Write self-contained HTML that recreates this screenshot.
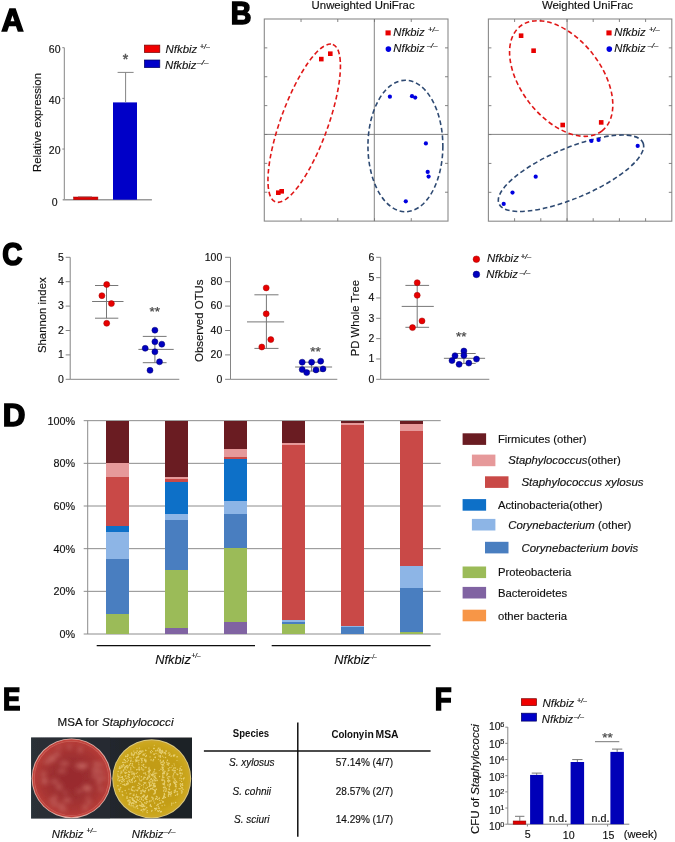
<!DOCTYPE html>
<html><head><meta charset="utf-8"><style>
html,body{margin:0;padding:0;background:#fff;}
svg{display:block;font-family:"Liberation Sans",sans-serif;}
</style></head><body>
<svg width="675" height="842" viewBox="0 0 675 842" font-family="Liberation Sans, sans-serif">
<defs><filter id="soft" filterUnits="userSpaceOnUse" x="0" y="0" width="675" height="842"><feGaussianBlur stdDeviation="0.35"/></filter></defs>
<rect width="675" height="842" fill="#fff"/>
<g filter="url(#soft)">
<text x="0" y="0" font-size="31.59" font-weight="bold" fill="#000" stroke="#000" stroke-width="1.6" stroke-linejoin="miter" transform="translate(1.61,30.93) scale(0.966,1)">A</text>
<text x="0" y="0" font-size="31.15" font-weight="bold" fill="#000" stroke="#000" stroke-width="1.6" stroke-linejoin="miter" transform="translate(230.82,24.03) scale(0.919,1)">B</text>
<text x="0" y="0" font-size="31.68" font-weight="bold" fill="#000" stroke="#000" stroke-width="1.6" stroke-linejoin="miter" transform="translate(2.26,265.31) scale(0.884,1)">C</text>
<text x="0" y="0" font-size="31.44" font-weight="bold" fill="#000" stroke="#000" stroke-width="1.6" stroke-linejoin="miter" transform="translate(2.70,425.93) scale(0.998,1)">D</text>
<text x="0" y="0" font-size="31.59" font-weight="bold" fill="#000" stroke="#000" stroke-width="1.6" stroke-linejoin="miter" transform="translate(2.91,710.13) scale(0.824,1)">E</text>
<text x="0" y="0" font-size="31.73" font-weight="bold" fill="#000" stroke="#000" stroke-width="1.6" stroke-linejoin="miter" transform="translate(434.84,710.23) scale(0.872,1)">F</text>
<line x1="64.3" y1="47.7" x2="64.3" y2="199.7" stroke="#858585" stroke-width="1" />
<line x1="62.7" y1="199.7" x2="151.9" y2="199.7" stroke="#9a9a9a" stroke-width="1.4" />
<line x1="62.3" y1="149.03333333333333" x2="64.3" y2="149.03333333333333" stroke="#858585" stroke-width="1" />
<text x="60.5" y="154.33333333333334" font-size="10.5" text-anchor="end" fill="#111" stroke="#111" stroke-width="0.15" >20</text>
<line x1="62.3" y1="98.36666666666666" x2="64.3" y2="98.36666666666666" stroke="#858585" stroke-width="1" />
<text x="60.5" y="103.66666666666666" font-size="10.5" text-anchor="end" fill="#111" stroke="#111" stroke-width="0.15" >40</text>
<line x1="62.3" y1="47.69999999999999" x2="64.3" y2="47.69999999999999" stroke="#858585" stroke-width="1" />
<text x="60.5" y="52.999999999999986" font-size="10.5" text-anchor="end" fill="#111" stroke="#111" stroke-width="0.15" >60</text>
<text x="57.5" y="205.6" font-size="10.5" text-anchor="end" fill="#111" stroke="#111" stroke-width="0.15" >0</text>
<rect x="73.6" y="197" width="24.3" height="2.7" fill="#e00000" stroke="#900" stroke-width="0.5" />
<line x1="78" y1="196.8" x2="92" y2="196.8" stroke="#a05050" stroke-width="0.8" />
<rect x="113" y="102.4" width="24" height="97.29999999999998" fill="#0000c8" stroke="none" stroke-width="0" />
<line x1="125.6" y1="102.4" x2="125.6" y2="72.4" stroke="#858585" stroke-width="1" />
<line x1="117.6" y1="72.4" x2="133.6" y2="72.4" stroke="#858585" stroke-width="1" />
<text x="125.6" y="63.8" font-size="14" text-anchor="middle" fill="#555" stroke="#555" stroke-width="0.5">*</text>
<rect x="144.4" y="45.1" width="15.4" height="7.4" fill="#f00000" stroke="#700" stroke-width="0.7" />
<rect x="144.4" y="60" width="15.4" height="7.6" fill="#0000c8" stroke="#000060" stroke-width="0.7" />
<text x="165.55" y="52.6" font-size="11.42" font-style="italic" fill="#111" stroke="#111" stroke-width="0.12">Nfkbiz</text>
<text x="200.10" y="48.93" font-size="6.8" font-style="italic" fill="#111" stroke="#111" stroke-width="0.2" textLength="9.6" lengthAdjust="spacingAndGlyphs">+/–</text>
<text x="164.95" y="68.5" font-size="11.35" font-style="italic" fill="#111" stroke="#111" stroke-width="0.12">Nfkbiz</text>
<text x="197.30" y="65.23" font-size="6.8" font-style="italic" fill="#111" stroke="#111" stroke-width="0.2" textLength="11" lengthAdjust="spacingAndGlyphs">–/–</text>
<text x="0" y="0" font-size="11" text-anchor="middle" fill="#111" textLength="99" lengthAdjust="spacingAndGlyphs" stroke="#111" stroke-width="0.15" transform="translate(40.5,122.5) rotate(-90)">Relative expression</text>
<rect x="264.3" y="19" width="183.7" height="202.1" fill="none" stroke="#8a8a8a" stroke-width="1.1"/>
<line x1="374.3" y1="19" x2="374.3" y2="221.1" stroke="#777" stroke-width="0.9" />
<line x1="264.3" y1="134.4" x2="448" y2="134.4" stroke="#777" stroke-width="0.9" />
<line x1="301.04" y1="19" x2="301.04" y2="22" stroke="#777" stroke-width="0.9" />
<line x1="301.04" y1="221.1" x2="301.04" y2="218.1" stroke="#777" stroke-width="0.9" />
<line x1="337.78" y1="19" x2="337.78" y2="22" stroke="#777" stroke-width="0.9" />
<line x1="337.78" y1="221.1" x2="337.78" y2="218.1" stroke="#777" stroke-width="0.9" />
<line x1="374.52" y1="19" x2="374.52" y2="22" stroke="#777" stroke-width="0.9" />
<line x1="374.52" y1="221.1" x2="374.52" y2="218.1" stroke="#777" stroke-width="0.9" />
<line x1="411.26" y1="19" x2="411.26" y2="22" stroke="#777" stroke-width="0.9" />
<line x1="411.26" y1="221.1" x2="411.26" y2="218.1" stroke="#777" stroke-width="0.9" />
<line x1="264.3" y1="47.87142857142857" x2="267.3" y2="47.87142857142857" stroke="#777" stroke-width="0.9" />
<line x1="448" y1="47.87142857142857" x2="445" y2="47.87142857142857" stroke="#777" stroke-width="0.9" />
<line x1="264.3" y1="76.74285714285713" x2="267.3" y2="76.74285714285713" stroke="#777" stroke-width="0.9" />
<line x1="448" y1="76.74285714285713" x2="445" y2="76.74285714285713" stroke="#777" stroke-width="0.9" />
<line x1="264.3" y1="105.61428571428571" x2="267.3" y2="105.61428571428571" stroke="#777" stroke-width="0.9" />
<line x1="448" y1="105.61428571428571" x2="445" y2="105.61428571428571" stroke="#777" stroke-width="0.9" />
<line x1="264.3" y1="134.48571428571427" x2="267.3" y2="134.48571428571427" stroke="#777" stroke-width="0.9" />
<line x1="448" y1="134.48571428571427" x2="445" y2="134.48571428571427" stroke="#777" stroke-width="0.9" />
<line x1="264.3" y1="163.35714285714286" x2="267.3" y2="163.35714285714286" stroke="#777" stroke-width="0.9" />
<line x1="448" y1="163.35714285714286" x2="445" y2="163.35714285714286" stroke="#777" stroke-width="0.9" />
<line x1="264.3" y1="192.22857142857143" x2="267.3" y2="192.22857142857143" stroke="#777" stroke-width="0.9" />
<line x1="448" y1="192.22857142857143" x2="445" y2="192.22857142857143" stroke="#777" stroke-width="0.9" />
<text x="363.1" y="9.4" font-size="11" text-anchor="middle" fill="#111" textLength="103" lengthAdjust="spacingAndGlyphs" stroke="#111" stroke-width="0.15" >Unweighted UniFrac</text>
<ellipse cx="304.2" cy="123.2" rx="83.8" ry="23.6" transform="rotate(-70 304.2 123.2)" fill="none" stroke="#e01818" stroke-width="1.6" stroke-dasharray="4.7 2.9"/>
<ellipse cx="405.4" cy="146" rx="37.45" ry="65.75" transform="rotate(0 405.4 146)" fill="none" stroke="#2e4a72" stroke-width="1.6" stroke-dasharray="4.7 2.9"/>
<rect x="319.0" y="56.800000000000004" width="4.6" height="4.6" fill="#e80000" stroke="none" stroke-width="0" />
<rect x="328.0" y="51.400000000000006" width="4.6" height="4.6" fill="#e80000" stroke="none" stroke-width="0" />
<rect x="276.0" y="190.39999999999998" width="4.6" height="4.6" fill="#e80000" stroke="none" stroke-width="0" />
<rect x="279.4" y="189.0" width="4.6" height="4.6" fill="#e80000" stroke="none" stroke-width="0" />
<circle cx="389.9" cy="96.7" r="2.1" fill="#0000e0" />
<circle cx="412" cy="96.2" r="2.1" fill="#0000e0" />
<circle cx="415.2" cy="97.6" r="2.1" fill="#0000e0" />
<circle cx="425.9" cy="143.4" r="2.1" fill="#0000e0" />
<circle cx="427.7" cy="171.9" r="2.1" fill="#0000e0" />
<circle cx="428.6" cy="176.6" r="2.1" fill="#0000e0" />
<circle cx="405.8" cy="201.3" r="2.1" fill="#0000e0" />
<rect x="385.5" y="30.4" width="5.2" height="5" fill="#e80000" stroke="none" stroke-width="0" />
<text x="393.35" y="36.3" font-size="11.31" font-style="italic" fill="#111" stroke="#111" stroke-width="0.12">Nfkbiz</text>
<text x="428.10" y="32.13" font-size="6.8" font-style="italic" fill="#111" stroke="#111" stroke-width="0.2" textLength="10.5" lengthAdjust="spacingAndGlyphs">+/–</text>
<circle cx="388.40000000000003" cy="49.1" r="2.8" fill="#0000e0" />
<text x="393.35" y="52.3" font-size="11.31" font-style="italic" fill="#111" stroke="#111" stroke-width="0.12">Nfkbiz</text>
<text x="426.90" y="48.23" font-size="6.8" font-style="italic" fill="#111" stroke="#111" stroke-width="0.2" textLength="10.5" lengthAdjust="spacingAndGlyphs">–/–</text>
<rect x="488.4" y="19" width="183.39999999999998" height="202.2" fill="none" stroke="#8a8a8a" stroke-width="1.1"/>
<line x1="567.1" y1="19" x2="567.1" y2="221.2" stroke="#777" stroke-width="0.9" />
<line x1="488.4" y1="134.4" x2="671.8" y2="134.4" stroke="#777" stroke-width="0.9" />
<line x1="514.6" y1="19" x2="514.6" y2="22" stroke="#777" stroke-width="0.9" />
<line x1="514.6" y1="221.2" x2="514.6" y2="218.2" stroke="#777" stroke-width="0.9" />
<line x1="540.8" y1="19" x2="540.8" y2="22" stroke="#777" stroke-width="0.9" />
<line x1="540.8" y1="221.2" x2="540.8" y2="218.2" stroke="#777" stroke-width="0.9" />
<line x1="567.0" y1="19" x2="567.0" y2="22" stroke="#777" stroke-width="0.9" />
<line x1="567.0" y1="221.2" x2="567.0" y2="218.2" stroke="#777" stroke-width="0.9" />
<line x1="593.1999999999999" y1="19" x2="593.1999999999999" y2="22" stroke="#777" stroke-width="0.9" />
<line x1="593.1999999999999" y1="221.2" x2="593.1999999999999" y2="218.2" stroke="#777" stroke-width="0.9" />
<line x1="619.4" y1="19" x2="619.4" y2="22" stroke="#777" stroke-width="0.9" />
<line x1="619.4" y1="221.2" x2="619.4" y2="218.2" stroke="#777" stroke-width="0.9" />
<line x1="645.5999999999999" y1="19" x2="645.5999999999999" y2="22" stroke="#777" stroke-width="0.9" />
<line x1="645.5999999999999" y1="221.2" x2="645.5999999999999" y2="218.2" stroke="#777" stroke-width="0.9" />
<line x1="488.4" y1="47.885714285714286" x2="491.4" y2="47.885714285714286" stroke="#777" stroke-width="0.9" />
<line x1="671.8" y1="47.885714285714286" x2="668.8" y2="47.885714285714286" stroke="#777" stroke-width="0.9" />
<line x1="488.4" y1="76.77142857142857" x2="491.4" y2="76.77142857142857" stroke="#777" stroke-width="0.9" />
<line x1="671.8" y1="76.77142857142857" x2="668.8" y2="76.77142857142857" stroke="#777" stroke-width="0.9" />
<line x1="488.4" y1="105.65714285714284" x2="491.4" y2="105.65714285714284" stroke="#777" stroke-width="0.9" />
<line x1="671.8" y1="105.65714285714284" x2="668.8" y2="105.65714285714284" stroke="#777" stroke-width="0.9" />
<line x1="488.4" y1="134.54285714285714" x2="491.4" y2="134.54285714285714" stroke="#777" stroke-width="0.9" />
<line x1="671.8" y1="134.54285714285714" x2="668.8" y2="134.54285714285714" stroke="#777" stroke-width="0.9" />
<line x1="488.4" y1="163.42857142857142" x2="491.4" y2="163.42857142857142" stroke="#777" stroke-width="0.9" />
<line x1="671.8" y1="163.42857142857142" x2="668.8" y2="163.42857142857142" stroke="#777" stroke-width="0.9" />
<line x1="488.4" y1="192.3142857142857" x2="491.4" y2="192.3142857142857" stroke="#777" stroke-width="0.9" />
<line x1="671.8" y1="192.3142857142857" x2="668.8" y2="192.3142857142857" stroke="#777" stroke-width="0.9" />
<text x="587.5" y="9.4" font-size="11" text-anchor="middle" fill="#111" textLength="91.2" lengthAdjust="spacingAndGlyphs" stroke="#111" stroke-width="0.15" >Weighted UniFrac</text>
<ellipse cx="561.2" cy="78.5" rx="66.4" ry="40" transform="rotate(52 561.2 78.5)" fill="none" stroke="#e01818" stroke-width="1.6" stroke-dasharray="4.7 2.9"/>
<ellipse cx="571" cy="173.25" rx="78.2" ry="25.1" transform="rotate(-22.9 571 173.25)" fill="none" stroke="#2e4a72" stroke-width="1.6" stroke-dasharray="4.7 2.9"/>
<rect x="518.8000000000001" y="33.400000000000006" width="4.6" height="4.6" fill="#e80000" stroke="none" stroke-width="0" />
<rect x="531.3000000000001" y="48.400000000000006" width="4.6" height="4.6" fill="#e80000" stroke="none" stroke-width="0" />
<rect x="560.4000000000001" y="122.7" width="4.6" height="4.6" fill="#e80000" stroke="none" stroke-width="0" />
<rect x="598.9000000000001" y="120.10000000000001" width="4.6" height="4.6" fill="#e80000" stroke="none" stroke-width="0" />
<circle cx="591.4" cy="140.9" r="2.1" fill="#0000e0" />
<circle cx="598.6" cy="139.9" r="2.1" fill="#0000e0" />
<circle cx="637.7" cy="145.9" r="2.1" fill="#0000e0" />
<circle cx="535.7" cy="176.7" r="2.1" fill="#0000e0" />
<circle cx="512.5" cy="192.6" r="2.1" fill="#0000e0" />
<circle cx="503.7" cy="203.9" r="2.1" fill="#0000e0" />
<rect x="606.4" y="30.4" width="5.2" height="5" fill="#e80000" stroke="none" stroke-width="0" />
<text x="614.25" y="36.3" font-size="11.31" font-style="italic" fill="#111" stroke="#111" stroke-width="0.12">Nfkbiz</text>
<text x="649.00" y="32.13" font-size="6.8" font-style="italic" fill="#111" stroke="#111" stroke-width="0.2" textLength="10.5" lengthAdjust="spacingAndGlyphs">+/–</text>
<circle cx="609.3" cy="49.1" r="2.8" fill="#0000e0" />
<text x="614.25" y="52.3" font-size="11.31" font-style="italic" fill="#111" stroke="#111" stroke-width="0.12">Nfkbiz</text>
<text x="647.80" y="48.23" font-size="6.8" font-style="italic" fill="#111" stroke="#111" stroke-width="0.2" textLength="10.5" lengthAdjust="spacingAndGlyphs">–/–</text>
<line x1="70.2" y1="257.3" x2="70.2" y2="379.3" stroke="#858585" stroke-width="1" />
<line x1="70.2" y1="379.3" x2="179.3" y2="379.3" stroke="#858585" stroke-width="1" />
<line x1="65.7" y1="379.3" x2="70.2" y2="379.3" stroke="#858585" stroke-width="1" />
<text x="63.8" y="382.6" font-size="10.5" text-anchor="end" fill="#111" stroke="#111" stroke-width="0.15" >0</text>
<line x1="65.7" y1="354.90000000000003" x2="70.2" y2="354.90000000000003" stroke="#858585" stroke-width="1" />
<text x="63.8" y="358.20000000000005" font-size="10.5" text-anchor="end" fill="#111" stroke="#111" stroke-width="0.15" >1</text>
<line x1="65.7" y1="330.5" x2="70.2" y2="330.5" stroke="#858585" stroke-width="1" />
<text x="63.8" y="333.8" font-size="10.5" text-anchor="end" fill="#111" stroke="#111" stroke-width="0.15" >2</text>
<line x1="65.7" y1="306.1" x2="70.2" y2="306.1" stroke="#858585" stroke-width="1" />
<text x="63.8" y="309.40000000000003" font-size="10.5" text-anchor="end" fill="#111" stroke="#111" stroke-width="0.15" >3</text>
<line x1="65.7" y1="281.70000000000005" x2="70.2" y2="281.70000000000005" stroke="#858585" stroke-width="1" />
<text x="63.8" y="285.00000000000006" font-size="10.5" text-anchor="end" fill="#111" stroke="#111" stroke-width="0.15" >4</text>
<line x1="65.7" y1="257.3" x2="70.2" y2="257.3" stroke="#858585" stroke-width="1" />
<text x="63.8" y="260.6" font-size="10.5" text-anchor="end" fill="#111" stroke="#111" stroke-width="0.15" >5</text>
<line x1="92.1" y1="301.5" x2="123.5" y2="301.5" stroke="#777" stroke-width="1" />
<line x1="95" y1="285.5" x2="118.3" y2="285.5" stroke="#777" stroke-width="1" />
<line x1="95" y1="318.2" x2="118.3" y2="318.2" stroke="#777" stroke-width="1" />
<line x1="106.5" y1="285.5" x2="106.5" y2="318.2" stroke="#777" stroke-width="1" />
<circle cx="106.7" cy="284.5" r="3.0" fill="#e80000" stroke="#a00000" stroke-width="0.5"/>
<circle cx="101.9" cy="295.7" r="3.0" fill="#e80000" stroke="#a00000" stroke-width="0.5"/>
<circle cx="111.4" cy="303.6" r="3.0" fill="#e80000" stroke="#a00000" stroke-width="0.5"/>
<circle cx="106.7" cy="323.3" r="3.0" fill="#e80000" stroke="#a00000" stroke-width="0.5"/>
<line x1="138.4" y1="349.4" x2="173.7" y2="349.4" stroke="#777" stroke-width="1" />
<line x1="142.8" y1="336.4" x2="166.6" y2="336.4" stroke="#777" stroke-width="1" />
<line x1="142.8" y1="362.7" x2="166.6" y2="362.7" stroke="#777" stroke-width="1" />
<line x1="154.9" y1="336.4" x2="154.9" y2="362.7" stroke="#777" stroke-width="1" />
<circle cx="154.9" cy="330.2" r="3.0" fill="#0000c0" stroke="#000070" stroke-width="0.5"/>
<circle cx="154.9" cy="341.8" r="3.0" fill="#0000c0" stroke="#000070" stroke-width="0.5"/>
<circle cx="161.8" cy="344.2" r="3.0" fill="#0000c0" stroke="#000070" stroke-width="0.5"/>
<circle cx="145.2" cy="348.3" r="3.0" fill="#0000c0" stroke="#000070" stroke-width="0.5"/>
<circle cx="154.9" cy="351.8" r="3.0" fill="#0000c0" stroke="#000070" stroke-width="0.5"/>
<circle cx="159.5" cy="361.8" r="3.0" fill="#0000c0" stroke="#000070" stroke-width="0.5"/>
<circle cx="150" cy="370.3" r="3.0" fill="#0000c0" stroke="#000070" stroke-width="0.5"/>
<text x="154.8" y="316.415" font-size="13.5" text-anchor="middle" fill="#444" stroke="#444" stroke-width="0.2">**</text>
<text x="0" y="0" font-size="11" text-anchor="middle" fill="#111" textLength="75.6" lengthAdjust="spacingAndGlyphs" stroke="#111" stroke-width="0.15" transform="translate(46.1,315.2) rotate(-90)">Shannon index</text>
<line x1="230.5" y1="257.3" x2="230.5" y2="379.3" stroke="#858585" stroke-width="1" />
<line x1="230.5" y1="379.3" x2="337.3" y2="379.3" stroke="#858585" stroke-width="1" />
<line x1="225.1" y1="379.3" x2="230.5" y2="379.3" stroke="#858585" stroke-width="1" />
<text x="222.3" y="382.6" font-size="10.5" text-anchor="end" fill="#111" stroke="#111" stroke-width="0.15" >0</text>
<line x1="225.1" y1="354.90000000000003" x2="230.5" y2="354.90000000000003" stroke="#858585" stroke-width="1" />
<text x="222.3" y="358.20000000000005" font-size="10.5" text-anchor="end" fill="#111" stroke="#111" stroke-width="0.15" >20</text>
<line x1="225.1" y1="330.5" x2="230.5" y2="330.5" stroke="#858585" stroke-width="1" />
<text x="222.3" y="333.8" font-size="10.5" text-anchor="end" fill="#111" stroke="#111" stroke-width="0.15" >40</text>
<line x1="225.1" y1="306.1" x2="230.5" y2="306.1" stroke="#858585" stroke-width="1" />
<text x="222.3" y="309.40000000000003" font-size="10.5" text-anchor="end" fill="#111" stroke="#111" stroke-width="0.15" >60</text>
<line x1="225.1" y1="281.70000000000005" x2="230.5" y2="281.70000000000005" stroke="#858585" stroke-width="1" />
<text x="222.3" y="285.00000000000006" font-size="10.5" text-anchor="end" fill="#111" stroke="#111" stroke-width="0.15" >80</text>
<line x1="225.1" y1="257.3" x2="230.5" y2="257.3" stroke="#858585" stroke-width="1" />
<text x="222.3" y="260.6" font-size="10.5" text-anchor="end" fill="#111" stroke="#111" stroke-width="0.15" >100</text>
<line x1="247" y1="321.9" x2="284.1" y2="321.9" stroke="#777" stroke-width="1" />
<line x1="254.4" y1="294.8" x2="278.5" y2="294.8" stroke="#777" stroke-width="1" />
<line x1="254.4" y1="348.4" x2="278.5" y2="348.4" stroke="#777" stroke-width="1" />
<line x1="266.4" y1="294.8" x2="266.4" y2="348.4" stroke="#777" stroke-width="1" />
<circle cx="266.2" cy="287.9" r="3.0" fill="#e80000" stroke="#a00000" stroke-width="0.5"/>
<circle cx="266.2" cy="313.8" r="3.0" fill="#e80000" stroke="#a00000" stroke-width="0.5"/>
<circle cx="270.8" cy="339.6" r="3.0" fill="#e80000" stroke="#a00000" stroke-width="0.5"/>
<circle cx="261.8" cy="347" r="3.0" fill="#e80000" stroke="#a00000" stroke-width="0.5"/>
<line x1="295.1" y1="367" x2="332.1" y2="367" stroke="#777" stroke-width="1" />
<line x1="302" y1="362.2" x2="323" y2="362.2" stroke="#777" stroke-width="1" />
<line x1="302" y1="371.1" x2="323" y2="371.1" stroke="#777" stroke-width="1" />
<line x1="311.6" y1="362.2" x2="311.6" y2="371.1" stroke="#777" stroke-width="1" />
<circle cx="302.2" cy="362.2" r="3.0" fill="#0000c0" stroke="#000070" stroke-width="0.5"/>
<circle cx="311.6" cy="362.2" r="3.0" fill="#0000c0" stroke="#000070" stroke-width="0.5"/>
<circle cx="320.7" cy="361.2" r="3.0" fill="#0000c0" stroke="#000070" stroke-width="0.5"/>
<circle cx="302.2" cy="369.6" r="3.0" fill="#0000c0" stroke="#000070" stroke-width="0.5"/>
<circle cx="306.7" cy="372.6" r="3.0" fill="#0000c0" stroke="#000070" stroke-width="0.5"/>
<circle cx="316" cy="369.9" r="3.0" fill="#0000c0" stroke="#000070" stroke-width="0.5"/>
<circle cx="323" cy="368.9" r="3.0" fill="#0000c0" stroke="#000070" stroke-width="0.5"/>
<text x="315.5" y="355.715" font-size="13.5" text-anchor="middle" fill="#444" stroke="#444" stroke-width="0.2">**</text>
<text x="0" y="0" font-size="11" text-anchor="middle" fill="#111" textLength="82.5" lengthAdjust="spacingAndGlyphs" stroke="#111" stroke-width="0.15" transform="translate(203.2,320.7) rotate(-90)">Observed OTUs</text>
<line x1="380.7" y1="257.3" x2="380.7" y2="379.3" stroke="#858585" stroke-width="1" />
<line x1="380.7" y1="379.3" x2="489.3" y2="379.3" stroke="#858585" stroke-width="1" />
<line x1="376.2" y1="379.3" x2="380.7" y2="379.3" stroke="#858585" stroke-width="1" />
<text x="374.3" y="382.6" font-size="10.5" text-anchor="end" fill="#111" stroke="#111" stroke-width="0.15" >0</text>
<line x1="376.2" y1="358.9666666666667" x2="380.7" y2="358.9666666666667" stroke="#858585" stroke-width="1" />
<text x="374.3" y="362.2666666666667" font-size="10.5" text-anchor="end" fill="#111" stroke="#111" stroke-width="0.15" >1</text>
<line x1="376.2" y1="338.6333333333333" x2="380.7" y2="338.6333333333333" stroke="#858585" stroke-width="1" />
<text x="374.3" y="341.93333333333334" font-size="10.5" text-anchor="end" fill="#111" stroke="#111" stroke-width="0.15" >2</text>
<line x1="376.2" y1="318.3" x2="380.7" y2="318.3" stroke="#858585" stroke-width="1" />
<text x="374.3" y="321.6" font-size="10.5" text-anchor="end" fill="#111" stroke="#111" stroke-width="0.15" >3</text>
<line x1="376.2" y1="297.9666666666667" x2="380.7" y2="297.9666666666667" stroke="#858585" stroke-width="1" />
<text x="374.3" y="301.2666666666667" font-size="10.5" text-anchor="end" fill="#111" stroke="#111" stroke-width="0.15" >4</text>
<line x1="376.2" y1="277.6333333333333" x2="380.7" y2="277.6333333333333" stroke="#858585" stroke-width="1" />
<text x="374.3" y="280.93333333333334" font-size="10.5" text-anchor="end" fill="#111" stroke="#111" stroke-width="0.15" >5</text>
<line x1="376.2" y1="257.3" x2="380.7" y2="257.3" stroke="#858585" stroke-width="1" />
<text x="374.3" y="260.6" font-size="10.5" text-anchor="end" fill="#111" stroke="#111" stroke-width="0.15" >6</text>
<line x1="401.7" y1="306.4" x2="433.8" y2="306.4" stroke="#777" stroke-width="1" />
<line x1="405.4" y1="285.4" x2="429.1" y2="285.4" stroke="#777" stroke-width="1" />
<line x1="405.4" y1="327.3" x2="429.1" y2="327.3" stroke="#777" stroke-width="1" />
<line x1="417.2" y1="285.4" x2="417.2" y2="327.3" stroke="#777" stroke-width="1" />
<circle cx="417.2" cy="282.7" r="3.0" fill="#e80000" stroke="#a00000" stroke-width="0.5"/>
<circle cx="417.2" cy="295.3" r="3.0" fill="#e80000" stroke="#a00000" stroke-width="0.5"/>
<circle cx="422" cy="320.9" r="3.0" fill="#e80000" stroke="#a00000" stroke-width="0.5"/>
<circle cx="412.5" cy="327.6" r="3.0" fill="#e80000" stroke="#a00000" stroke-width="0.5"/>
<line x1="443.9" y1="358.3" x2="485.1" y2="358.3" stroke="#777" stroke-width="1" />
<line x1="457.2" y1="353.5" x2="475.7" y2="353.5" stroke="#777" stroke-width="1" />
<line x1="457.2" y1="363.4" x2="475.7" y2="363.4" stroke="#777" stroke-width="1" />
<line x1="463.9" y1="353.5" x2="463.9" y2="363.4" stroke="#777" stroke-width="1" />
<circle cx="463.9" cy="351" r="3.0" fill="#0000c0" stroke="#000070" stroke-width="0.5"/>
<circle cx="455" cy="355.7" r="3.0" fill="#0000c0" stroke="#000070" stroke-width="0.5"/>
<circle cx="463.9" cy="355.4" r="3.0" fill="#0000c0" stroke="#000070" stroke-width="0.5"/>
<circle cx="452" cy="360.6" r="3.0" fill="#0000c0" stroke="#000070" stroke-width="0.5"/>
<circle cx="459.1" cy="364.3" r="3.0" fill="#0000c0" stroke="#000070" stroke-width="0.5"/>
<circle cx="468.8" cy="363.1" r="3.0" fill="#0000c0" stroke="#000070" stroke-width="0.5"/>
<circle cx="476.5" cy="359.1" r="3.0" fill="#0000c0" stroke="#000070" stroke-width="0.5"/>
<text x="461.2" y="341.015" font-size="13.5" text-anchor="middle" fill="#444" stroke="#444" stroke-width="0.2">**</text>
<text x="0" y="0" font-size="11" text-anchor="middle" fill="#111" textLength="76.4" lengthAdjust="spacingAndGlyphs" stroke="#111" stroke-width="0.15" transform="translate(358.6,318.1) rotate(-90)">PD Whole Tree</text>
<circle cx="476.4" cy="259.2" r="3.3" fill="#e80000" stroke="#a00000" stroke-width="0.5"/>
<circle cx="476.4" cy="274.4" r="3.3" fill="#0000c0" stroke="#000070" stroke-width="0.5"/>
<text x="487.04" y="262.3" font-size="11.46" font-style="italic" fill="#111" stroke="#111" stroke-width="0.12">Nfkbiz</text>
<text x="520.70" y="258.73" font-size="6.8" font-style="italic" fill="#111" stroke="#111" stroke-width="0.2" textLength="10.5" lengthAdjust="spacingAndGlyphs">+/–</text>
<text x="486.35" y="278.4" font-size="11.38" font-style="italic" fill="#111" stroke="#111" stroke-width="0.12">Nfkbiz</text>
<text x="519.80" y="274.83" font-size="6.8" font-style="italic" fill="#111" stroke="#111" stroke-width="0.2" textLength="10.5" lengthAdjust="spacingAndGlyphs">–/–</text>
<line x1="83.7" y1="634.0" x2="440.7" y2="634.0" stroke="#8c8c8c" stroke-width="1" />
<text x="75.1" y="638.1" font-size="10.8" text-anchor="end" fill="#111" stroke="#111" stroke-width="0.15" >0%</text>
<line x1="83.7" y1="591.334" x2="440.7" y2="591.334" stroke="#8c8c8c" stroke-width="1" />
<text x="75.1" y="595.434" font-size="10.8" text-anchor="end" fill="#111" stroke="#111" stroke-width="0.15" >20%</text>
<line x1="83.7" y1="548.668" x2="440.7" y2="548.668" stroke="#8c8c8c" stroke-width="1" />
<text x="75.1" y="552.768" font-size="10.8" text-anchor="end" fill="#111" stroke="#111" stroke-width="0.15" >40%</text>
<line x1="83.7" y1="506.00199999999995" x2="440.7" y2="506.00199999999995" stroke="#8c8c8c" stroke-width="1" />
<text x="75.1" y="510.102" font-size="10.8" text-anchor="end" fill="#111" stroke="#111" stroke-width="0.15" >60%</text>
<line x1="83.7" y1="463.336" x2="440.7" y2="463.336" stroke="#8c8c8c" stroke-width="1" />
<text x="75.1" y="467.43600000000004" font-size="10.8" text-anchor="end" fill="#111" stroke="#111" stroke-width="0.15" >80%</text>
<line x1="83.7" y1="420.66999999999996" x2="440.7" y2="420.66999999999996" stroke="#8c8c8c" stroke-width="1" />
<text x="75.1" y="424.77" font-size="10.8" text-anchor="end" fill="#111" stroke="#111" stroke-width="0.15" >100%</text>
<line x1="87.7" y1="420.7" x2="87.7" y2="634.0" stroke="#8c8c8c" stroke-width="1" />
<rect x="105.9" y="613.95" width="23" height="20.05" fill="#9bbb59" stroke="none" stroke-width="0" shape-rendering="crispEdges"/>
<rect x="105.9" y="558.91" width="23" height="55.04" fill="#4a7ec0" stroke="none" stroke-width="0" shape-rendering="crispEdges"/>
<rect x="105.9" y="531.6" width="23" height="27.31" fill="#8db5e6" stroke="none" stroke-width="0" shape-rendering="crispEdges"/>
<rect x="105.9" y="526.06" width="23" height="5.55" fill="#0a6fc8" stroke="none" stroke-width="0" shape-rendering="crispEdges"/>
<rect x="105.9" y="477.42" width="23" height="48.64" fill="#c94a47" stroke="none" stroke-width="0" shape-rendering="crispEdges"/>
<rect x="105.9" y="463.34" width="23" height="14.08" fill="#e6999a" stroke="none" stroke-width="0" shape-rendering="crispEdges"/>
<rect x="105.9" y="420.67" width="23" height="42.67" fill="#6b1f22" stroke="none" stroke-width="0" shape-rendering="crispEdges"/>
<rect x="165.0" y="628.24" width="23" height="5.76" fill="#8064a2" stroke="none" stroke-width="0" shape-rendering="crispEdges"/>
<rect x="165.0" y="570.0" width="23" height="58.24" fill="#9bbb59" stroke="none" stroke-width="0" shape-rendering="crispEdges"/>
<rect x="165.0" y="520.08" width="23" height="49.92" fill="#4a7ec0" stroke="none" stroke-width="0" shape-rendering="crispEdges"/>
<rect x="165.0" y="514.32" width="23" height="5.76" fill="#8db5e6" stroke="none" stroke-width="0" shape-rendering="crispEdges"/>
<rect x="165.0" y="481.68" width="23" height="32.64" fill="#0a6fc8" stroke="none" stroke-width="0" shape-rendering="crispEdges"/>
<rect x="165.0" y="479.34" width="23" height="2.35" fill="#c94a47" stroke="none" stroke-width="0" shape-rendering="crispEdges"/>
<rect x="165.0" y="477.42" width="23" height="1.92" fill="#e6999a" stroke="none" stroke-width="0" shape-rendering="crispEdges"/>
<rect x="165.0" y="420.67" width="23" height="56.75" fill="#6b1f22" stroke="none" stroke-width="0" shape-rendering="crispEdges"/>
<rect x="223.5" y="622.27" width="23" height="11.73" fill="#8064a2" stroke="none" stroke-width="0" shape-rendering="crispEdges"/>
<rect x="223.5" y="548.24" width="23" height="74.03" fill="#9bbb59" stroke="none" stroke-width="0" shape-rendering="crispEdges"/>
<rect x="223.5" y="514.32" width="23" height="33.92" fill="#4a7ec0" stroke="none" stroke-width="0" shape-rendering="crispEdges"/>
<rect x="223.5" y="501.1" width="23" height="13.23" fill="#8db5e6" stroke="none" stroke-width="0" shape-rendering="crispEdges"/>
<rect x="223.5" y="459.07" width="23" height="42.03" fill="#0a6fc8" stroke="none" stroke-width="0" shape-rendering="crispEdges"/>
<rect x="223.5" y="456.72" width="23" height="2.35" fill="#c94a47" stroke="none" stroke-width="0" shape-rendering="crispEdges"/>
<rect x="223.5" y="449.04" width="23" height="7.68" fill="#e6999a" stroke="none" stroke-width="0" shape-rendering="crispEdges"/>
<rect x="223.5" y="420.67" width="23" height="28.37" fill="#6b1f22" stroke="none" stroke-width="0" shape-rendering="crispEdges"/>
<rect x="282.3" y="624.4" width="23" height="9.6" fill="#9bbb59" stroke="none" stroke-width="0" shape-rendering="crispEdges"/>
<rect x="282.3" y="621.63" width="23" height="2.77" fill="#4a7ec0" stroke="none" stroke-width="0" shape-rendering="crispEdges"/>
<rect x="282.3" y="619.92" width="23" height="1.71" fill="#8db5e6" stroke="none" stroke-width="0" shape-rendering="crispEdges"/>
<rect x="282.3" y="444.99" width="23" height="174.93" fill="#c94a47" stroke="none" stroke-width="0" shape-rendering="crispEdges"/>
<rect x="282.3" y="443.28" width="23" height="1.71" fill="#e6999a" stroke="none" stroke-width="0" shape-rendering="crispEdges"/>
<rect x="282.3" y="420.67" width="23" height="22.61" fill="#6b1f22" stroke="none" stroke-width="0" shape-rendering="crispEdges"/>
<rect x="340.9" y="627.39" width="23" height="6.61" fill="#4a7ec0" stroke="none" stroke-width="0" shape-rendering="crispEdges"/>
<rect x="340.9" y="626.0" width="23" height="1.39" fill="#8db5e6" stroke="none" stroke-width="0" shape-rendering="crispEdges"/>
<rect x="340.9" y="424.94" width="23" height="201.06" fill="#c94a47" stroke="none" stroke-width="0" shape-rendering="crispEdges"/>
<rect x="340.9" y="423.23" width="23" height="1.71" fill="#e6999a" stroke="none" stroke-width="0" shape-rendering="crispEdges"/>
<rect x="340.9" y="420.67" width="23" height="2.56" fill="#6b1f22" stroke="none" stroke-width="0" shape-rendering="crispEdges"/>
<rect x="400.0" y="632.29" width="23" height="1.71" fill="#9bbb59" stroke="none" stroke-width="0" shape-rendering="crispEdges"/>
<rect x="400.0" y="588.35" width="23" height="43.95" fill="#4a7ec0" stroke="none" stroke-width="0" shape-rendering="crispEdges"/>
<rect x="400.0" y="565.73" width="23" height="22.61" fill="#8db5e6" stroke="none" stroke-width="0" shape-rendering="crispEdges"/>
<rect x="400.0" y="430.91" width="23" height="134.82" fill="#c94a47" stroke="none" stroke-width="0" shape-rendering="crispEdges"/>
<rect x="400.0" y="424.3" width="23" height="6.61" fill="#e6999a" stroke="none" stroke-width="0" shape-rendering="crispEdges"/>
<rect x="400.0" y="420.67" width="23" height="3.63" fill="#6b1f22" stroke="none" stroke-width="0" shape-rendering="crispEdges"/>
<line x1="96.7" y1="645.6" x2="255" y2="645.6" stroke="#111" stroke-width="1.2" />
<line x1="271.7" y1="645.6" x2="430.6" y2="645.6" stroke="#111" stroke-width="1.2" />
<text x="155.20" y="663.5" font-size="12.85" font-style="italic" fill="#111" stroke="#111" stroke-width="0.12">Nfkbiz</text>
<text x="191.59" y="658.08" font-size="7" font-style="italic" fill="#111" stroke="#111" stroke-width="0.2" textLength="8.9" lengthAdjust="spacingAndGlyphs">+/–</text>
<text x="334.30" y="663.7" font-size="12.85" font-style="italic" fill="#111" stroke="#111" stroke-width="0.12">Nfkbiz</text>
<text x="369.59" y="659.18" font-size="7" font-style="italic" fill="#111" stroke="#111" stroke-width="0.2" textLength="7.1" lengthAdjust="spacingAndGlyphs">–/–</text>
<rect x="462.6" y="433.3" width="23.5" height="11.6" fill="#6b1f22" stroke="none" stroke-width="0" />
<text x="497.9" y="443.1" font-size="11" text-anchor="start" fill="#111" textLength="88.7" lengthAdjust="spacingAndGlyphs" stroke="#111" stroke-width="0.15" >Firmicutes (other)</text>
<rect x="471.9" y="454.6" width="23.5" height="11.6" fill="#e6999a" stroke="none" stroke-width="0" />
<text x="508.2" y="464.40000000000003" font-size="11" text-anchor="start" fill="#111" textLength="112.6" lengthAdjust="spacingAndGlyphs" stroke="#111" stroke-width="0.15" ><tspan font-style="italic">Staphylococcus</tspan>(other)</text>
<rect x="485" y="476.3" width="23.5" height="11.6" fill="#c94a47" stroke="none" stroke-width="0" />
<text x="521.4" y="486.1" font-size="11" text-anchor="start" fill="#111" font-style="italic" textLength="122.2" lengthAdjust="spacingAndGlyphs" stroke="#111" stroke-width="0.15" >Staphylococcus xylosus</text>
<rect x="462.6" y="499.1" width="23.5" height="11.6" fill="#0a6fc8" stroke="none" stroke-width="0" />
<text x="497.9" y="508.90000000000003" font-size="11" text-anchor="start" fill="#111" textLength="104.6" lengthAdjust="spacingAndGlyphs" stroke="#111" stroke-width="0.15" >Actinobacteria(other)</text>
<rect x="471.9" y="518.9" width="23.5" height="11.6" fill="#8db5e6" stroke="none" stroke-width="0" />
<text x="508.2" y="528.6999999999999" font-size="11" text-anchor="start" fill="#111" textLength="123.2" lengthAdjust="spacingAndGlyphs" stroke="#111" stroke-width="0.15" ><tspan font-style="italic">Corynebacterium</tspan> (other)</text>
<rect x="485" y="541.8" width="23.5" height="11.6" fill="#4a7ec0" stroke="none" stroke-width="0" />
<text x="521.4" y="551.5999999999999" font-size="11" text-anchor="start" fill="#111" font-style="italic" textLength="116.9" lengthAdjust="spacingAndGlyphs" stroke="#111" stroke-width="0.15" >Corynebacterium bovis</text>
<rect x="462.6" y="566.5" width="23.5" height="11.6" fill="#9bbb59" stroke="none" stroke-width="0" />
<text x="497.9" y="576.3" font-size="11" text-anchor="start" fill="#111" textLength="73.3" lengthAdjust="spacingAndGlyphs" stroke="#111" stroke-width="0.15" >Proteobacteria</text>
<rect x="462.6" y="586.9" width="23.5" height="11.6" fill="#8064a2" stroke="none" stroke-width="0" />
<text x="497.9" y="596.6999999999999" font-size="11" text-anchor="start" fill="#111" textLength="69.2" lengthAdjust="spacingAndGlyphs" stroke="#111" stroke-width="0.15" >Bacteroidetes</text>
<rect x="462.6" y="609.7" width="23.5" height="11.6" fill="#f79646" stroke="none" stroke-width="0" />
<text x="497.9" y="619.5" font-size="11" text-anchor="start" fill="#111" textLength="69.2" lengthAdjust="spacingAndGlyphs" stroke="#111" stroke-width="0.15" >other bacteria</text>
<text x="57.5" y="725.8" font-size="10.5" text-anchor="start" fill="#111" textLength="116" lengthAdjust="spacingAndGlyphs" stroke="#111" stroke-width="0.15" >MSA for <tspan font-style="italic">Staphylococci</tspan></text>
<defs><radialGradient id="rg" cx="0.5" cy="0.5" r="0.5"><stop offset="0" stop-color="#982a2e"/><stop offset="0.5" stop-color="#9c2e30"/><stop offset="0.85" stop-color="#aa3634"/><stop offset="1" stop-color="#b63c38"/></radialGradient><radialGradient id="yg" cx="0.5" cy="0.5" r="0.5"><stop offset="0" stop-color="#c09a14"/><stop offset="0.8" stop-color="#c49e16"/><stop offset="1" stop-color="#cca820"/></radialGradient><linearGradient id="bgp" x1="0" y1="0" x2="1" y2="0"><stop offset="0" stop-color="#283038"/><stop offset="0.5" stop-color="#22272d"/><stop offset="1" stop-color="#1e2126"/></linearGradient><filter id="bl" x="-20%" y="-20%" width="140%" height="140%"><feGaussianBlur stdDeviation="2.2"/></filter><filter id="bl2"><feGaussianBlur stdDeviation="0.3"/></filter><clipPath id="rclip"><circle cx="71.5" cy="778.3" r="37"/></clipPath></defs>
<rect x="31.1" y="737.5" width="160.9" height="81" fill="url(#bgp)" stroke="none" stroke-width="0" />
<rect x="31.1" y="737.5" width="79" height="81" fill="#2c3036" stroke="none" stroke-width="0" opacity="0.5"/>
<circle cx="71.5" cy="778.3" r="39.9" fill="#e0b0a8" />
<circle cx="71.5" cy="778.3" r="39.0" fill="#c2443e" />
<circle cx="71.5" cy="778.3" r="37.4" fill="#cc6a62" />
<circle cx="71.5" cy="778.3" r="36.9" fill="url(#rg)" />
<g clip-path="url(#rclip)"><g filter="url(#bl)"><ellipse cx="51.7" cy="759.1" rx="4.5" ry="3.4" fill="#c86a64" opacity="0.55"/><ellipse cx="69.5" cy="747.0" rx="2.6" ry="2.4" fill="#c86a64" opacity="0.55"/><ellipse cx="95.5" cy="769.4" rx="4.8" ry="1.7" fill="#c86a64" opacity="0.55"/><ellipse cx="54.6" cy="781.6" rx="3.9" ry="2.6" fill="#c86a64" opacity="0.55"/><ellipse cx="95.8" cy="764.2" rx="2.9" ry="3.1" fill="#c86a64" opacity="0.55"/><ellipse cx="87.6" cy="797.4" rx="2.8" ry="1.5" fill="#c86a64" opacity="0.55"/><ellipse cx="82.8" cy="766.4" rx="3.0" ry="3.5" fill="#c86a64" opacity="0.55"/><ellipse cx="84.1" cy="765.3" rx="4.9" ry="2.6" fill="#c86a64" opacity="0.55"/><ellipse cx="64.4" cy="763.6" rx="4.9" ry="2.9" fill="#c86a64" opacity="0.55"/><ellipse cx="101.6" cy="771.9" rx="3.2" ry="2.2" fill="#c86a64" opacity="0.55"/><ellipse cx="79.1" cy="791.3" rx="2.7" ry="2.1" fill="#c86a64" opacity="0.55"/><ellipse cx="61.9" cy="771.0" rx="4.2" ry="2.2" fill="#c86a64" opacity="0.55"/><ellipse cx="60.8" cy="805.4" rx="3.7" ry="2.1" fill="#c86a64" opacity="0.55"/><ellipse cx="44.9" cy="781.5" rx="2.6" ry="3.5" fill="#c86a64" opacity="0.55"/><ellipse cx="99.0" cy="782.3" rx="2.5" ry="3.1" fill="#c86a64" opacity="0.55"/><ellipse cx="55.4" cy="796.3" rx="2.5" ry="1.6" fill="#c86a64" opacity="0.55"/><ellipse cx="85.0" cy="807.4" rx="3.0" ry="3.0" fill="#c86a64" opacity="0.55"/><ellipse cx="100.2" cy="764.7" rx="3.4" ry="2.2" fill="#c86a64" opacity="0.55"/><ellipse cx="43.6" cy="773.9" rx="2.8" ry="3.0" fill="#c86a64" opacity="0.55"/><ellipse cx="80.3" cy="749.6" rx="2.6" ry="3.4" fill="#c86a64" opacity="0.55"/><ellipse cx="87.6" cy="788.7" rx="4.0" ry="3.3" fill="#c86a64" opacity="0.55"/><ellipse cx="54.7" cy="804.8" rx="3.9" ry="2.1" fill="#c86a64" opacity="0.55"/><ellipse cx="65.1" cy="792.7" rx="2.7" ry="1.8" fill="#c86a64" opacity="0.55"/><ellipse cx="59.2" cy="747.7" rx="2.9" ry="1.6" fill="#c86a64" opacity="0.55"/><ellipse cx="94.6" cy="776.4" rx="3.5" ry="2.0" fill="#c86a64" opacity="0.55"/><ellipse cx="47.1" cy="762.0" rx="3.6" ry="2.3" fill="#c86a64" opacity="0.55"/><ellipse cx="100.8" cy="789.0" rx="2.6" ry="2.5" fill="#c86a64" opacity="0.55"/><ellipse cx="79.3" cy="765.8" rx="4.3" ry="3.4" fill="#c86a64" opacity="0.55"/><ellipse cx="52.0" cy="757.4" rx="2.8" ry="2.4" fill="#c86a64" opacity="0.55"/><ellipse cx="89.1" cy="802.3" rx="3.2" ry="2.4" fill="#c86a64" opacity="0.55"/><ellipse cx="101.4" cy="778.2" rx="4.9" ry="2.4" fill="#c86a64" opacity="0.55"/><ellipse cx="44.3" cy="780.3" rx="3.7" ry="2.1" fill="#c86a64" opacity="0.55"/><ellipse cx="59.1" cy="786.9" rx="3.4" ry="3.5" fill="#c86a64" opacity="0.55"/><ellipse cx="95.9" cy="772.0" rx="3.7" ry="2.2" fill="#c86a64" opacity="0.55"/><ellipse cx="86.5" cy="787.7" rx="4.5" ry="3.2" fill="#c86a64" opacity="0.55"/><ellipse cx="53.1" cy="800.1" rx="4.4" ry="2.9" fill="#c86a64" opacity="0.55"/><ellipse cx="57.1" cy="754.3" rx="3.4" ry="2.9" fill="#c86a64" opacity="0.55"/><ellipse cx="67.2" cy="800.1" rx="4.4" ry="2.9" fill="#c86a64" opacity="0.55"/><ellipse cx="62.8" cy="809.0" rx="4.1" ry="2.7" fill="#c86a64" opacity="0.55"/></g></g>
<circle cx="151.7" cy="778.8" r="39.5" fill="#dccb80" />
<circle cx="151.7" cy="778.8" r="38.6" fill="#cca626" />
<circle cx="151.7" cy="778.8" r="36.8" fill="url(#yg)" />
<g fill="#f0dc8a" opacity="0.8" filter="url(#bl2)"><circle cx="127.1" cy="761.8" r="0.81"/><circle cx="136.6" cy="757.6" r="0.74"/><circle cx="133.2" cy="773.2" r="0.79"/><circle cx="119.4" cy="780.7" r="0.85"/><circle cx="118.8" cy="776.8" r="0.81"/><circle cx="130.0" cy="797.6" r="0.65"/><circle cx="121.3" cy="765.6" r="0.55"/><circle cx="135.9" cy="804.0" r="0.60"/><circle cx="134.4" cy="774.8" r="0.68"/><circle cx="146.0" cy="756.3" r="0.68"/><circle cx="142.6" cy="769.1" r="0.57"/><circle cx="126.6" cy="797.1" r="0.56"/><circle cx="122.9" cy="784.6" r="0.72"/><circle cx="136.2" cy="773.5" r="0.71"/><circle cx="133.6" cy="757.1" r="0.62"/><circle cx="137.4" cy="776.5" r="0.85"/><circle cx="126.8" cy="784.8" r="0.72"/><circle cx="130.8" cy="769.7" r="0.51"/><circle cx="140.7" cy="790.8" r="0.64"/><circle cx="124.8" cy="784.2" r="0.78"/><circle cx="132.9" cy="800.2" r="0.61"/><circle cx="138.9" cy="769.1" r="0.74"/><circle cx="146.1" cy="760.1" r="0.50"/><circle cx="129.8" cy="793.9" r="0.61"/><circle cx="122.1" cy="779.7" r="0.79"/><circle cx="118.8" cy="789.2" r="0.71"/><circle cx="139.9" cy="784.2" r="0.73"/><circle cx="143.1" cy="770.4" r="0.57"/><circle cx="137.9" cy="785.3" r="0.67"/><circle cx="134.5" cy="778.0" r="0.69"/><circle cx="142.1" cy="803.9" r="0.59"/><circle cx="131.4" cy="789.0" r="0.73"/><circle cx="119.5" cy="791.0" r="0.69"/><circle cx="136.5" cy="806.4" r="0.85"/><circle cx="141.5" cy="768.9" r="0.70"/><circle cx="128.9" cy="789.2" r="0.64"/><circle cx="118.4" cy="778.3" r="0.54"/><circle cx="121.5" cy="766.9" r="0.55"/><circle cx="129.0" cy="800.0" r="0.77"/><circle cx="120.0" cy="777.6" r="0.54"/><circle cx="133.6" cy="800.6" r="0.54"/><circle cx="141.5" cy="799.6" r="0.56"/><circle cx="125.8" cy="775.8" r="0.68"/><circle cx="128.1" cy="800.7" r="0.79"/><circle cx="145.5" cy="761.8" r="0.71"/><circle cx="122.8" cy="766.1" r="0.78"/><circle cx="124.5" cy="779.5" r="0.52"/><circle cx="134.8" cy="767.7" r="0.50"/><circle cx="117.8" cy="776.0" r="0.77"/><circle cx="128.4" cy="783.8" r="0.61"/><circle cx="145.3" cy="790.4" r="0.75"/><circle cx="132.6" cy="786.5" r="0.62"/><circle cx="137.3" cy="756.7" r="0.56"/><circle cx="143.8" cy="795.1" r="0.59"/><circle cx="143.1" cy="796.1" r="0.53"/><circle cx="129.1" cy="774.9" r="0.82"/><circle cx="120.7" cy="787.4" r="0.70"/><circle cx="123.8" cy="762.4" r="0.62"/><circle cx="127.6" cy="756.6" r="0.66"/><circle cx="120.6" cy="773.1" r="0.63"/><circle cx="135.5" cy="761.7" r="0.52"/><circle cx="125.0" cy="772.2" r="0.81"/><circle cx="128.3" cy="760.3" r="0.70"/><circle cx="142.3" cy="806.4" r="0.84"/><circle cx="131.2" cy="779.4" r="0.65"/><circle cx="127.6" cy="767.8" r="0.72"/><circle cx="141.7" cy="762.4" r="0.59"/><circle cx="133.0" cy="761.6" r="0.52"/><circle cx="133.5" cy="755.2" r="0.83"/><circle cx="133.0" cy="805.7" r="0.80"/><circle cx="142.7" cy="790.7" r="0.61"/><circle cx="125.3" cy="773.2" r="0.81"/><circle cx="122.5" cy="794.7" r="0.79"/><circle cx="133.1" cy="795.1" r="0.61"/><circle cx="127.3" cy="765.6" r="0.71"/><circle cx="141.2" cy="806.0" r="0.84"/><circle cx="142.4" cy="796.5" r="0.67"/><circle cx="141.4" cy="793.0" r="0.83"/><circle cx="124.3" cy="781.2" r="0.59"/><circle cx="128.0" cy="755.3" r="0.64"/><circle cx="125.2" cy="790.5" r="0.75"/><circle cx="145.4" cy="777.5" r="0.58"/><circle cx="144.9" cy="806.2" r="0.61"/><circle cx="145.4" cy="773.1" r="0.81"/><circle cx="124.1" cy="765.8" r="0.67"/><circle cx="123.4" cy="764.6" r="0.78"/><circle cx="135.8" cy="801.5" r="0.59"/><circle cx="142.1" cy="779.2" r="0.56"/><circle cx="136.6" cy="796.2" r="0.63"/><circle cx="120.2" cy="788.8" r="0.57"/><circle cx="144.1" cy="795.3" r="0.84"/><circle cx="139.5" cy="779.1" r="0.60"/><circle cx="122.9" cy="795.6" r="0.70"/><circle cx="127.3" cy="796.2" r="0.54"/><circle cx="145.9" cy="774.8" r="0.69"/><circle cx="129.3" cy="804.0" r="0.63"/><circle cx="138.7" cy="762.8" r="0.64"/><circle cx="143.9" cy="796.5" r="0.52"/><circle cx="146.1" cy="788.6" r="0.54"/><circle cx="127.9" cy="782.9" r="0.79"/><circle cx="145.9" cy="788.2" r="0.62"/><circle cx="133.0" cy="803.3" r="0.59"/><circle cx="130.3" cy="800.0" r="0.57"/><circle cx="141.7" cy="765.0" r="0.60"/><circle cx="125.0" cy="769.3" r="0.58"/><circle cx="124.7" cy="784.9" r="0.51"/><circle cx="125.2" cy="776.0" r="0.73"/><circle cx="128.0" cy="778.1" r="0.62"/><circle cx="134.6" cy="801.7" r="0.55"/><circle cx="129.9" cy="802.4" r="0.75"/><circle cx="132.2" cy="782.0" r="0.53"/><circle cx="132.9" cy="754.8" r="0.59"/><circle cx="130.5" cy="763.5" r="0.79"/><circle cx="122.7" cy="778.9" r="0.54"/><circle cx="138.7" cy="783.3" r="0.66"/><circle cx="127.2" cy="781.3" r="0.79"/><circle cx="133.8" cy="795.4" r="0.78"/><circle cx="120.8" cy="783.5" r="0.56"/><circle cx="124.9" cy="768.5" r="0.62"/><circle cx="140.1" cy="780.7" r="0.75"/><circle cx="134.0" cy="794.1" r="0.63"/><circle cx="144.2" cy="777.3" r="0.84"/><circle cx="135.5" cy="780.6" r="0.57"/><circle cx="132.6" cy="790.5" r="0.83"/><circle cx="130.8" cy="782.1" r="0.68"/><circle cx="131.6" cy="803.7" r="0.58"/><circle cx="138.0" cy="800.3" r="0.66"/><circle cx="145.0" cy="767.6" r="0.55"/><circle cx="133.9" cy="803.8" r="0.75"/><circle cx="142.1" cy="761.1" r="0.59"/><circle cx="121.2" cy="777.2" r="0.81"/><circle cx="119.8" cy="766.6" r="0.71"/><circle cx="119.8" cy="789.3" r="0.63"/><circle cx="140.4" cy="801.3" r="0.59"/><circle cx="122.2" cy="791.8" r="0.71"/><circle cx="136.8" cy="761.4" r="0.57"/><circle cx="143.3" cy="805.1" r="0.81"/><circle cx="129.2" cy="779.6" r="0.54"/><circle cx="146.4" cy="797.9" r="0.68"/><circle cx="122.4" cy="776.7" r="0.69"/><circle cx="132.7" cy="771.8" r="0.59"/><circle cx="123.4" cy="770.7" r="0.77"/><circle cx="138.6" cy="754.8" r="0.63"/><circle cx="133.8" cy="777.1" r="0.73"/><circle cx="118.2" cy="771.4" r="0.70"/><circle cx="135.8" cy="780.9" r="0.61"/><circle cx="140.6" cy="805.3" r="0.64"/><circle cx="120.7" cy="767.9" r="0.53"/><circle cx="125.5" cy="760.7" r="0.56"/><circle cx="129.9" cy="802.1" r="0.80"/><circle cx="141.5" cy="767.5" r="0.61"/><circle cx="134.2" cy="790.9" r="0.73"/><circle cx="137.7" cy="776.3" r="0.54"/><circle cx="136.1" cy="796.3" r="0.70"/><circle cx="130.9" cy="771.8" r="0.63"/><circle cx="133.7" cy="802.9" r="0.68"/><circle cx="125.5" cy="760.6" r="0.60"/><circle cx="133.0" cy="766.4" r="0.52"/><circle cx="126.7" cy="770.0" r="0.61"/><circle cx="139.7" cy="769.2" r="0.58"/><circle cx="132.2" cy="763.2" r="0.54"/><circle cx="127.8" cy="754.8" r="0.75"/><circle cx="139.0" cy="783.0" r="0.60"/><circle cx="123.2" cy="779.0" r="0.64"/><circle cx="144.8" cy="759.4" r="0.82"/><circle cx="141.4" cy="776.7" r="0.77"/><circle cx="132.1" cy="798.0" r="0.81"/><circle cx="129.1" cy="780.7" r="0.80"/><circle cx="137.6" cy="805.9" r="0.55"/><circle cx="127.6" cy="797.9" r="0.60"/><circle cx="138.2" cy="787.5" r="0.51"/><circle cx="129.4" cy="772.2" r="0.74"/><circle cx="125.1" cy="762.5" r="0.73"/><circle cx="142.9" cy="789.3" r="0.62"/><circle cx="125.9" cy="766.6" r="0.64"/><circle cx="126.2" cy="778.2" r="0.73"/><circle cx="122.3" cy="777.4" r="0.74"/><circle cx="145.9" cy="782.8" r="0.59"/><circle cx="126.7" cy="772.7" r="0.80"/><circle cx="117.7" cy="774.0" r="0.62"/><circle cx="131.5" cy="780.4" r="0.72"/><circle cx="123.5" cy="780.6" r="0.56"/><circle cx="120.3" cy="775.0" r="0.54"/><circle cx="126.5" cy="766.1" r="0.82"/><circle cx="134.7" cy="781.8" r="0.76"/><circle cx="139.5" cy="788.6" r="0.75"/><circle cx="138.5" cy="800.4" r="0.51"/><circle cx="129.0" cy="771.1" r="0.51"/><circle cx="146.3" cy="761.7" r="0.56"/><circle cx="138.7" cy="787.9" r="0.57"/><circle cx="143.6" cy="787.0" r="0.61"/><circle cx="139.0" cy="796.8" r="0.63"/><circle cx="121.7" cy="781.6" r="0.51"/><circle cx="132.3" cy="798.1" r="0.61"/><circle cx="141.0" cy="797.6" r="0.72"/><circle cx="134.6" cy="801.1" r="0.56"/><circle cx="137.5" cy="790.5" r="0.79"/><circle cx="121.6" cy="772.9" r="0.70"/><circle cx="133.9" cy="787.1" r="0.75"/><circle cx="135.9" cy="789.9" r="0.59"/><circle cx="131.9" cy="754.0" r="0.65"/><circle cx="140.8" cy="793.5" r="0.74"/><circle cx="132.3" cy="782.2" r="0.62"/><circle cx="136.8" cy="757.3" r="0.50"/><circle cx="139.1" cy="767.2" r="0.79"/><circle cx="119.9" cy="767.9" r="0.77"/><circle cx="138.9" cy="764.7" r="0.60"/><circle cx="139.2" cy="805.5" r="0.52"/><circle cx="132.0" cy="774.1" r="0.80"/><circle cx="131.6" cy="790.0" r="0.71"/><circle cx="139.9" cy="786.5" r="0.52"/><circle cx="136.3" cy="757.9" r="0.59"/><circle cx="122.0" cy="767.3" r="0.54"/><circle cx="139.3" cy="769.9" r="0.78"/><circle cx="134.2" cy="754.5" r="0.57"/><circle cx="119.5" cy="768.0" r="0.82"/><circle cx="137.2" cy="790.5" r="0.76"/><circle cx="137.3" cy="769.2" r="0.53"/><circle cx="132.7" cy="778.4" r="0.74"/><circle cx="131.2" cy="760.1" r="0.64"/><circle cx="143.6" cy="764.4" r="0.76"/><circle cx="146.1" cy="803.4" r="0.79"/><circle cx="118.2" cy="778.1" r="0.60"/><circle cx="141.5" cy="805.1" r="0.53"/><circle cx="130.7" cy="768.0" r="0.83"/><circle cx="123.8" cy="784.6" r="0.65"/><circle cx="121.8" cy="781.6" r="0.83"/><circle cx="145.3" cy="760.8" r="0.74"/><circle cx="141.5" cy="780.8" r="0.76"/><circle cx="143.4" cy="791.1" r="0.79"/><circle cx="131.8" cy="755.1" r="0.72"/><circle cx="117.8" cy="779.9" r="0.66"/><circle cx="130.8" cy="769.8" r="0.52"/><circle cx="121.8" cy="772.0" r="0.74"/><circle cx="126.9" cy="798.3" r="0.65"/><circle cx="142.0" cy="760.2" r="0.68"/><circle cx="144.6" cy="791.6" r="0.82"/><circle cx="143.8" cy="769.2" r="0.54"/><circle cx="128.5" cy="774.6" r="0.77"/><circle cx="146.7" cy="785.0" r="0.52"/><circle cx="128.2" cy="776.5" r="0.75"/><circle cx="125.7" cy="756.4" r="0.78"/><circle cx="124.9" cy="767.9" r="0.59"/><circle cx="132.5" cy="763.9" r="0.69"/><circle cx="143.3" cy="796.8" r="0.84"/><circle cx="136.0" cy="802.2" r="0.72"/><circle cx="145.0" cy="782.9" r="0.69"/><circle cx="138.6" cy="756.4" r="0.59"/><circle cx="138.9" cy="777.7" r="0.52"/><circle cx="139.5" cy="788.0" r="0.63"/><circle cx="126.0" cy="756.4" r="0.64"/><circle cx="144.6" cy="760.5" r="0.57"/><circle cx="131.4" cy="772.0" r="0.61"/><circle cx="126.3" cy="793.0" r="0.55"/><circle cx="146.0" cy="767.6" r="0.75"/><circle cx="136.7" cy="769.7" r="0.73"/><circle cx="133.9" cy="774.7" r="0.58"/><circle cx="122.6" cy="762.4" r="0.58"/><circle cx="132.1" cy="765.5" r="0.68"/><circle cx="144.0" cy="806.6" r="0.66"/><circle cx="130.7" cy="761.2" r="0.83"/><circle cx="127.6" cy="758.6" r="0.62"/><circle cx="124.6" cy="767.5" r="0.60"/><circle cx="134.2" cy="800.8" r="0.81"/><circle cx="139.4" cy="775.7" r="0.55"/><circle cx="129.7" cy="781.6" r="0.70"/><circle cx="128.6" cy="771.7" r="0.62"/><circle cx="119.5" cy="768.5" r="0.79"/><circle cx="145.8" cy="760.5" r="0.69"/><circle cx="132.3" cy="787.2" r="0.77"/><circle cx="142.7" cy="765.2" r="0.56"/><circle cx="125.6" cy="767.0" r="0.73"/><circle cx="129.3" cy="777.4" r="0.71"/><circle cx="145.4" cy="798.8" r="0.66"/><circle cx="143.0" cy="755.0" r="0.77"/><circle cx="143.7" cy="778.9" r="0.79"/><circle cx="134.7" cy="753.8" r="0.54"/><circle cx="129.1" cy="802.9" r="0.60"/><circle cx="141.6" cy="799.1" r="0.63"/><circle cx="145.9" cy="767.0" r="0.57"/><circle cx="132.8" cy="789.9" r="0.52"/><circle cx="145.0" cy="792.1" r="0.60"/><circle cx="136.5" cy="794.3" r="0.57"/><circle cx="144.3" cy="755.0" r="0.75"/><circle cx="131.0" cy="758.0" r="0.66"/><circle cx="137.1" cy="759.8" r="0.54"/><circle cx="150.4" cy="751.7" r="0.61"/><circle cx="133.8" cy="751.1" r="0.66"/><circle cx="150.1" cy="756.9" r="0.63"/><circle cx="146.5" cy="755.4" r="0.56"/><circle cx="142.1" cy="750.7" r="0.53"/><circle cx="148.9" cy="747.9" r="0.50"/><circle cx="139.3" cy="753.8" r="0.85"/><circle cx="160.4" cy="756.2" r="0.76"/><circle cx="158.0" cy="754.0" r="0.53"/><circle cx="137.2" cy="751.0" r="0.75"/><circle cx="160.4" cy="757.0" r="0.84"/><circle cx="139.5" cy="748.1" r="0.70"/><circle cx="145.6" cy="756.6" r="0.54"/><circle cx="143.1" cy="751.1" r="0.67"/><circle cx="151.1" cy="759.8" r="0.65"/><circle cx="137.0" cy="748.2" r="0.57"/><circle cx="140.5" cy="753.3" r="0.69"/><circle cx="151.5" cy="750.4" r="0.50"/><circle cx="155.2" cy="757.4" r="0.82"/><circle cx="145.9" cy="750.5" r="0.73"/><circle cx="160.7" cy="751.9" r="0.72"/><circle cx="155.9" cy="750.8" r="0.83"/><circle cx="136.8" cy="757.7" r="0.73"/><circle cx="139.1" cy="760.2" r="0.59"/><circle cx="145.6" cy="750.2" r="0.59"/><circle cx="136.8" cy="753.2" r="0.55"/><circle cx="151.0" cy="760.1" r="0.51"/><circle cx="134.4" cy="752.9" r="0.77"/><circle cx="136.5" cy="760.5" r="0.79"/><circle cx="131.6" cy="752.9" r="0.60"/><circle cx="158.4" cy="759.3" r="0.57"/><circle cx="153.1" cy="760.8" r="0.72"/><circle cx="159.5" cy="752.1" r="0.80"/><circle cx="135.6" cy="760.0" r="0.82"/><circle cx="153.6" cy="748.2" r="0.56"/><circle cx="151.0" cy="752.7" r="0.77"/><circle cx="141.7" cy="752.1" r="0.79"/><circle cx="138.7" cy="752.4" r="0.76"/><circle cx="160.3" cy="749.4" r="0.61"/><circle cx="160.6" cy="750.5" r="0.56"/><circle cx="141.1" cy="758.5" r="0.79"/><circle cx="156.0" cy="753.4" r="0.61"/><circle cx="131.3" cy="754.0" r="0.63"/><circle cx="141.6" cy="759.8" r="0.69"/><circle cx="135.9" cy="752.5" r="0.63"/><circle cx="158.4" cy="748.2" r="0.79"/><circle cx="142.8" cy="758.4" r="0.58"/><circle cx="154.2" cy="748.3" r="0.51"/><circle cx="159.1" cy="751.1" r="0.70"/><circle cx="153.6" cy="759.5" r="0.72"/><circle cx="140.6" cy="751.3" r="0.79"/><circle cx="160.3" cy="755.8" r="0.75"/><circle cx="138.1" cy="757.1" r="0.82"/><circle cx="139.8" cy="751.4" r="0.83"/><circle cx="129.8" cy="757.6" r="0.67"/><circle cx="159.0" cy="756.0" r="0.67"/><circle cx="159.9" cy="748.1" r="0.56"/><circle cx="137.2" cy="754.0" r="0.60"/><circle cx="160.3" cy="760.2" r="0.70"/><circle cx="142.1" cy="751.1" r="0.53"/><circle cx="143.5" cy="754.2" r="0.74"/><circle cx="159.4" cy="750.2" r="0.56"/><circle cx="155.4" cy="757.4" r="0.66"/><circle cx="159.0" cy="808.2" r="0.84"/><circle cx="150.8" cy="801.0" r="0.53"/><circle cx="139.8" cy="801.6" r="0.51"/><circle cx="157.4" cy="797.1" r="0.65"/><circle cx="135.2" cy="807.8" r="0.57"/><circle cx="137.1" cy="796.8" r="0.75"/><circle cx="129.0" cy="804.6" r="0.50"/><circle cx="161.3" cy="811.6" r="0.79"/><circle cx="137.8" cy="797.1" r="0.80"/><circle cx="131.4" cy="803.8" r="0.78"/><circle cx="154.7" cy="803.0" r="0.65"/><circle cx="136.6" cy="802.5" r="0.60"/><circle cx="151.3" cy="806.6" r="0.73"/><circle cx="156.1" cy="809.4" r="0.68"/><circle cx="152.9" cy="797.7" r="0.65"/><circle cx="159.7" cy="800.5" r="0.62"/><circle cx="149.2" cy="801.8" r="0.65"/><circle cx="155.7" cy="799.0" r="0.73"/><circle cx="137.1" cy="799.7" r="0.79"/><circle cx="149.7" cy="801.0" r="0.82"/><circle cx="142.8" cy="811.7" r="0.56"/><circle cx="147.0" cy="799.5" r="0.60"/><circle cx="158.4" cy="806.3" r="0.66"/><circle cx="165.4" cy="797.4" r="0.70"/><circle cx="145.7" cy="808.9" r="0.62"/><circle cx="159.6" cy="810.4" r="0.57"/><circle cx="129.2" cy="800.5" r="0.53"/><circle cx="132.2" cy="798.8" r="0.61"/><circle cx="164.7" cy="805.1" r="0.66"/><circle cx="163.0" cy="801.8" r="0.84"/><circle cx="160.6" cy="803.0" r="0.82"/><circle cx="137.6" cy="808.2" r="0.80"/><circle cx="163.6" cy="797.5" r="0.84"/><circle cx="150.4" cy="805.7" r="0.84"/><circle cx="136.0" cy="801.7" r="0.72"/><circle cx="133.1" cy="799.1" r="0.78"/><circle cx="137.4" cy="805.4" r="0.52"/><circle cx="152.5" cy="799.1" r="0.74"/><circle cx="128.1" cy="801.0" r="0.71"/><circle cx="153.5" cy="798.8" r="0.60"/><circle cx="139.6" cy="799.1" r="0.70"/><circle cx="157.9" cy="804.6" r="0.83"/><circle cx="130.1" cy="797.4" r="0.67"/><circle cx="142.7" cy="804.6" r="0.73"/><circle cx="152.0" cy="797.3" r="0.60"/><circle cx="133.9" cy="806.9" r="0.62"/><circle cx="143.3" cy="800.3" r="0.81"/><circle cx="139.6" cy="804.9" r="0.51"/><circle cx="141.3" cy="802.5" r="0.57"/><circle cx="160.5" cy="811.7" r="0.74"/><circle cx="141.5" cy="799.0" r="0.66"/><circle cx="155.4" cy="799.1" r="0.53"/><circle cx="143.8" cy="808.9" r="0.73"/><circle cx="143.1" cy="809.9" r="0.63"/><circle cx="145.2" cy="798.4" r="0.70"/><circle cx="152.0" cy="810.4" r="0.65"/><circle cx="131.1" cy="805.8" r="0.69"/><circle cx="141.8" cy="803.9" r="0.70"/><circle cx="133.2" cy="800.3" r="0.64"/><circle cx="147.5" cy="810.6" r="0.54"/><circle cx="131.8" cy="803.6" r="0.56"/><circle cx="158.3" cy="811.3" r="0.81"/><circle cx="135.2" cy="797.8" r="0.69"/><circle cx="146.0" cy="796.7" r="0.54"/><circle cx="162.9" cy="802.0" r="0.80"/><circle cx="162.1" cy="805.7" r="0.59"/><circle cx="159.0" cy="798.4" r="0.53"/><circle cx="157.6" cy="799.4" r="0.69"/><circle cx="143.1" cy="809.3" r="0.59"/><circle cx="159.2" cy="798.7" r="0.67"/><circle cx="136.0" cy="802.2" r="0.69"/><circle cx="147.4" cy="801.9" r="0.58"/><circle cx="132.4" cy="799.8" r="0.70"/><circle cx="155.2" cy="810.2" r="0.54"/><circle cx="129.3" cy="804.8" r="0.68"/><circle cx="156.5" cy="796.4" r="0.71"/><circle cx="159.6" cy="797.7" r="0.53"/><circle cx="150.5" cy="804.6" r="0.64"/><circle cx="151.5" cy="800.7" r="0.53"/><circle cx="143.7" cy="805.1" r="0.65"/><circle cx="143.9" cy="806.3" r="0.80"/><circle cx="144.7" cy="802.8" r="0.69"/><circle cx="146.3" cy="799.6" r="0.75"/><circle cx="156.7" cy="808.3" r="0.76"/><circle cx="145.1" cy="798.7" r="0.54"/><circle cx="145.7" cy="797.5" r="0.85"/><circle cx="132.6" cy="802.7" r="0.75"/><circle cx="131.2" cy="802.9" r="0.54"/><circle cx="147.1" cy="796.5" r="0.79"/><circle cx="151.9" cy="797.1" r="0.64"/><circle cx="155.6" cy="808.2" r="0.56"/><circle cx="147.1" cy="796.7" r="0.84"/><circle cx="146.8" cy="801.8" r="0.70"/><circle cx="163.8" cy="798.0" r="0.77"/><circle cx="160.3" cy="811.7" r="0.55"/><circle cx="155.5" cy="808.8" r="0.77"/><circle cx="146.4" cy="811.1" r="0.52"/><circle cx="162.5" cy="798.4" r="0.58"/><circle cx="157.7" cy="810.7" r="0.63"/><circle cx="130.2" cy="801.4" r="0.51"/><circle cx="156.4" cy="798.3" r="0.71"/><circle cx="161.8" cy="800.2" r="0.57"/><circle cx="155.2" cy="791.3" r="0.60"/><circle cx="154.8" cy="793.6" r="0.75"/><circle cx="154.1" cy="783.2" r="0.65"/><circle cx="155.1" cy="777.2" r="0.81"/><circle cx="154.9" cy="786.7" r="0.72"/><circle cx="155.4" cy="790.5" r="0.81"/><circle cx="153.0" cy="787.6" r="0.70"/><circle cx="152.4" cy="783.1" r="0.82"/><circle cx="155.2" cy="773.2" r="0.80"/><circle cx="154.3" cy="779.5" r="0.56"/><circle cx="153.9" cy="794.1" r="0.76"/><circle cx="153.9" cy="789.4" r="0.62"/><circle cx="156.2" cy="789.2" r="0.77"/><circle cx="152.1" cy="774.7" r="0.74"/><circle cx="153.8" cy="784.1" r="0.79"/><circle cx="154.3" cy="771.0" r="0.54"/><circle cx="153.2" cy="786.1" r="0.63"/><circle cx="155.1" cy="792.8" r="0.76"/><circle cx="154.4" cy="786.5" r="0.83"/><circle cx="154.8" cy="779.9" r="0.75"/><circle cx="152.8" cy="775.5" r="0.52"/><circle cx="153.1" cy="774.9" r="0.71"/><circle cx="154.5" cy="773.7" r="0.53"/><circle cx="155.0" cy="775.2" r="0.69"/><circle cx="154.8" cy="790.7" r="0.78"/><circle cx="155.4" cy="777.2" r="0.54"/><circle cx="153.4" cy="785.5" r="0.82"/><circle cx="155.6" cy="780.8" r="0.74"/><circle cx="154.2" cy="776.6" r="0.59"/><circle cx="153.6" cy="784.0" r="0.57"/><circle cx="153.8" cy="772.0" r="0.66"/><circle cx="154.8" cy="783.8" r="0.79"/><circle cx="153.0" cy="774.8" r="0.70"/><circle cx="154.6" cy="785.6" r="0.54"/><circle cx="153.9" cy="778.5" r="0.51"/><circle cx="154.9" cy="790.6" r="0.54"/><circle cx="154.6" cy="769.6" r="0.78"/><circle cx="154.1" cy="780.9" r="0.56"/><circle cx="154.5" cy="776.7" r="0.69"/><circle cx="152.9" cy="773.2" r="0.60"/><circle cx="155.3" cy="786.2" r="0.74"/><circle cx="153.0" cy="776.8" r="0.63"/><circle cx="153.7" cy="789.6" r="0.55"/><circle cx="155.0" cy="786.1" r="0.81"/><circle cx="155.4" cy="792.0" r="0.69"/><circle cx="149.1" cy="770.1" r="0.74"/><circle cx="149.2" cy="786.5" r="0.78"/><circle cx="149.5" cy="776.9" r="0.83"/><circle cx="149.4" cy="780.6" r="0.50"/><circle cx="148.8" cy="790.7" r="0.62"/><circle cx="150.8" cy="782.7" r="0.55"/><circle cx="149.4" cy="783.8" r="0.68"/><circle cx="148.8" cy="771.6" r="0.81"/><circle cx="150.7" cy="788.8" r="0.78"/><circle cx="149.7" cy="769.0" r="0.51"/><circle cx="149.3" cy="770.3" r="0.56"/><circle cx="149.1" cy="782.3" r="0.79"/><circle cx="151.4" cy="785.0" r="0.74"/><circle cx="150.2" cy="773.8" r="0.64"/><circle cx="152.3" cy="789.0" r="0.67"/><circle cx="151.0" cy="788.6" r="0.56"/><circle cx="149.3" cy="771.9" r="0.80"/><circle cx="150.9" cy="785.8" r="0.64"/><circle cx="149.8" cy="786.0" r="0.81"/><circle cx="150.3" cy="770.2" r="0.71"/><circle cx="148.7" cy="772.7" r="0.53"/><circle cx="148.7" cy="768.1" r="0.62"/><circle cx="149.5" cy="784.6" r="0.58"/><circle cx="148.7" cy="789.9" r="0.81"/><circle cx="150.9" cy="781.8" r="0.71"/><circle cx="149.7" cy="776.4" r="0.52"/><circle cx="149.4" cy="783.5" r="0.56"/><circle cx="152.0" cy="788.5" r="0.63"/><circle cx="149.7" cy="770.9" r="0.66"/><circle cx="150.3" cy="785.1" r="0.70"/><circle cx="147.9" cy="778.7" r="0.64"/><circle cx="148.1" cy="771.3" r="0.62"/><circle cx="150.2" cy="789.2" r="0.50"/><circle cx="149.6" cy="775.1" r="0.70"/><circle cx="150.8" cy="779.7" r="0.62"/><circle cx="149.2" cy="767.2" r="0.51"/><circle cx="149.6" cy="785.0" r="0.66"/><circle cx="147.8" cy="777.7" r="0.85"/><circle cx="149.0" cy="768.7" r="0.52"/><circle cx="148.9" cy="773.9" r="0.55"/><circle cx="162.2" cy="779.3" r="0.73"/><circle cx="162.0" cy="766.9" r="0.60"/><circle cx="164.2" cy="787.0" r="0.60"/><circle cx="163.1" cy="772.0" r="0.68"/><circle cx="163.5" cy="790.8" r="0.59"/><circle cx="161.4" cy="764.6" r="0.70"/><circle cx="164.6" cy="781.9" r="0.68"/><circle cx="164.5" cy="794.6" r="0.83"/><circle cx="162.7" cy="767.6" r="0.85"/><circle cx="163.4" cy="763.9" r="0.51"/><circle cx="162.8" cy="770.4" r="0.70"/><circle cx="164.4" cy="773.1" r="0.77"/><circle cx="166.2" cy="788.9" r="0.81"/><circle cx="160.8" cy="763.0" r="0.77"/><circle cx="164.2" cy="789.1" r="0.72"/><circle cx="162.8" cy="764.7" r="0.72"/><circle cx="162.9" cy="765.6" r="0.63"/><circle cx="163.9" cy="772.1" r="0.60"/><circle cx="162.9" cy="777.0" r="0.78"/><circle cx="162.2" cy="762.1" r="0.81"/><circle cx="165.1" cy="787.3" r="0.83"/><circle cx="163.8" cy="779.9" r="0.74"/><circle cx="162.8" cy="764.4" r="0.61"/><circle cx="163.6" cy="787.4" r="0.77"/><circle cx="163.4" cy="784.5" r="0.76"/><circle cx="163.0" cy="769.6" r="0.68"/><circle cx="163.9" cy="772.9" r="0.72"/><circle cx="164.0" cy="784.3" r="0.62"/><circle cx="162.9" cy="775.2" r="0.69"/><circle cx="164.6" cy="784.9" r="0.64"/><circle cx="164.2" cy="783.3" r="0.52"/><circle cx="164.0" cy="777.3" r="0.62"/><circle cx="164.7" cy="781.1" r="0.61"/><circle cx="164.1" cy="796.2" r="0.85"/><circle cx="162.3" cy="780.5" r="0.67"/><circle cx="162.5" cy="776.9" r="0.63"/><circle cx="161.7" cy="780.0" r="0.59"/><circle cx="162.7" cy="764.7" r="0.58"/><circle cx="166.3" cy="790.8" r="0.62"/><circle cx="164.2" cy="772.0" r="0.55"/><circle cx="164.5" cy="773.7" r="0.50"/><circle cx="163.2" cy="773.6" r="0.80"/><circle cx="163.5" cy="769.6" r="0.66"/><circle cx="163.9" cy="796.2" r="0.66"/><circle cx="163.8" cy="790.9" r="0.70"/><circle cx="163.3" cy="760.4" r="0.61"/><circle cx="162.7" cy="783.7" r="0.56"/><circle cx="164.1" cy="766.1" r="0.52"/><circle cx="164.7" cy="782.0" r="0.61"/><circle cx="163.3" cy="777.7" r="0.61"/><circle cx="163.4" cy="761.2" r="0.75"/><circle cx="164.3" cy="793.5" r="0.69"/><circle cx="162.6" cy="767.7" r="0.83"/><circle cx="162.6" cy="756.1" r="0.62"/><circle cx="162.8" cy="768.2" r="0.82"/><circle cx="162.6" cy="773.7" r="0.70"/><circle cx="165.2" cy="771.2" r="0.53"/><circle cx="163.8" cy="757.3" r="0.56"/><circle cx="165.5" cy="791.2" r="0.70"/><circle cx="164.1" cy="783.4" r="0.85"/><circle cx="169.2" cy="794.4" r="0.62"/><circle cx="168.4" cy="765.0" r="0.77"/><circle cx="168.9" cy="789.2" r="0.65"/><circle cx="169.7" cy="792.8" r="0.80"/><circle cx="168.1" cy="791.8" r="0.52"/><circle cx="170.4" cy="783.8" r="0.67"/><circle cx="169.9" cy="792.5" r="0.81"/><circle cx="168.7" cy="778.8" r="0.60"/><circle cx="168.7" cy="792.3" r="0.59"/><circle cx="168.9" cy="770.1" r="0.51"/><circle cx="167.3" cy="763.0" r="0.56"/><circle cx="167.4" cy="778.5" r="0.59"/><circle cx="171.3" cy="791.9" r="0.75"/><circle cx="167.3" cy="777.1" r="0.58"/><circle cx="168.6" cy="791.8" r="0.64"/><circle cx="170.9" cy="796.0" r="0.57"/><circle cx="170.3" cy="783.9" r="0.71"/><circle cx="169.9" cy="785.0" r="0.80"/><circle cx="168.5" cy="796.1" r="0.73"/><circle cx="171.1" cy="793.4" r="0.57"/><circle cx="167.9" cy="785.0" r="0.76"/><circle cx="167.2" cy="774.2" r="0.84"/><circle cx="169.5" cy="789.6" r="0.71"/><circle cx="166.8" cy="775.4" r="0.53"/><circle cx="168.8" cy="770.4" r="0.78"/><circle cx="168.5" cy="780.1" r="0.81"/><circle cx="168.6" cy="794.4" r="0.62"/><circle cx="168.0" cy="773.5" r="0.55"/><circle cx="167.7" cy="780.6" r="0.57"/><circle cx="167.4" cy="760.2" r="0.69"/><circle cx="169.6" cy="780.7" r="0.81"/><circle cx="168.5" cy="763.1" r="0.72"/><circle cx="168.0" cy="781.2" r="0.82"/><circle cx="168.5" cy="792.7" r="0.57"/><circle cx="168.5" cy="782.1" r="0.61"/><circle cx="169.4" cy="786.8" r="0.76"/><circle cx="168.7" cy="776.8" r="0.73"/><circle cx="169.7" cy="767.7" r="0.64"/><circle cx="169.0" cy="792.9" r="0.74"/><circle cx="169.6" cy="789.2" r="0.62"/><circle cx="167.9" cy="771.1" r="0.52"/><circle cx="167.0" cy="772.9" r="0.64"/><circle cx="170.8" cy="794.9" r="0.52"/><circle cx="169.1" cy="763.5" r="0.72"/><circle cx="169.8" cy="781.0" r="0.62"/><circle cx="166.7" cy="762.2" r="0.67"/><circle cx="170.7" cy="794.4" r="0.71"/><circle cx="169.7" cy="776.5" r="0.59"/><circle cx="168.2" cy="768.6" r="0.66"/><circle cx="167.5" cy="760.5" r="0.50"/><circle cx="177.3" cy="794.8" r="0.82"/><circle cx="175.5" cy="768.0" r="0.70"/><circle cx="174.1" cy="770.7" r="0.85"/><circle cx="174.0" cy="763.8" r="0.52"/><circle cx="175.4" cy="789.9" r="0.71"/><circle cx="174.7" cy="782.2" r="0.75"/><circle cx="175.5" cy="795.3" r="0.62"/><circle cx="175.3" cy="786.0" r="0.53"/><circle cx="175.2" cy="783.6" r="0.55"/><circle cx="174.2" cy="772.8" r="0.55"/><circle cx="175.1" cy="790.5" r="0.77"/><circle cx="173.5" cy="774.7" r="0.53"/><circle cx="176.1" cy="786.2" r="0.78"/><circle cx="173.6" cy="773.9" r="0.65"/><circle cx="173.2" cy="777.9" r="0.69"/><circle cx="175.9" cy="791.8" r="0.71"/><circle cx="176.8" cy="773.9" r="0.69"/><circle cx="175.5" cy="784.8" r="0.73"/><circle cx="176.8" cy="782.3" r="0.71"/><circle cx="174.5" cy="783.4" r="0.62"/><circle cx="174.4" cy="792.4" r="0.76"/><circle cx="176.3" cy="781.4" r="0.59"/><circle cx="175.0" cy="772.6" r="0.75"/><circle cx="173.0" cy="775.9" r="0.77"/><circle cx="177.3" cy="791.8" r="0.77"/><circle cx="176.2" cy="788.0" r="0.61"/><circle cx="175.3" cy="770.8" r="0.77"/><circle cx="175.9" cy="784.5" r="0.84"/><circle cx="172.2" cy="765.8" r="0.66"/><circle cx="174.1" cy="767.7" r="0.60"/><circle cx="173.0" cy="770.1" r="0.68"/><circle cx="174.8" cy="779.0" r="0.83"/><circle cx="175.5" cy="786.0" r="0.55"/><circle cx="174.5" cy="764.9" r="0.50"/><circle cx="172.3" cy="770.0" r="0.67"/><circle cx="174.3" cy="791.1" r="0.73"/><circle cx="175.1" cy="782.7" r="0.77"/><circle cx="173.8" cy="768.5" r="0.63"/><circle cx="173.8" cy="782.0" r="0.85"/><circle cx="177.3" cy="769.4" r="0.58"/><circle cx="181.6" cy="778.7" r="0.76"/><circle cx="182.0" cy="788.8" r="0.53"/><circle cx="180.2" cy="777.1" r="0.51"/><circle cx="181.8" cy="769.5" r="0.55"/><circle cx="180.0" cy="780.2" r="0.52"/><circle cx="179.1" cy="788.6" r="0.68"/><circle cx="182.3" cy="784.9" r="0.69"/><circle cx="180.9" cy="775.1" r="0.56"/><circle cx="180.3" cy="773.3" r="0.83"/><circle cx="181.6" cy="781.4" r="0.63"/><circle cx="181.9" cy="791.3" r="0.55"/><circle cx="180.5" cy="783.5" r="0.56"/><circle cx="181.6" cy="793.1" r="0.76"/><circle cx="182.4" cy="783.8" r="0.82"/><circle cx="179.9" cy="778.4" r="0.56"/><circle cx="182.3" cy="791.9" r="0.51"/><circle cx="179.7" cy="770.7" r="0.77"/><circle cx="183.1" cy="789.4" r="0.58"/><circle cx="180.2" cy="768.4" r="0.84"/><circle cx="181.3" cy="784.3" r="0.67"/><circle cx="180.1" cy="769.9" r="0.72"/><circle cx="180.6" cy="786.3" r="0.62"/><circle cx="181.9" cy="787.5" r="0.78"/><circle cx="181.0" cy="775.8" r="0.66"/><circle cx="180.1" cy="773.4" r="0.61"/><circle cx="182.6" cy="785.2" r="0.82"/><circle cx="182.3" cy="774.0" r="0.54"/><circle cx="182.0" cy="773.3" r="0.76"/><circle cx="182.2" cy="791.0" r="0.52"/><circle cx="181.6" cy="770.3" r="0.73"/><circle cx="180.1" cy="784.1" r="0.64"/><circle cx="180.0" cy="788.8" r="0.80"/><circle cx="180.0" cy="772.6" r="0.52"/><circle cx="180.6" cy="785.7" r="0.70"/><circle cx="181.3" cy="790.7" r="0.64"/><circle cx="161.4" cy="753.6" r="0.82"/><circle cx="165.6" cy="753.8" r="0.83"/><circle cx="165.1" cy="752.4" r="0.72"/><circle cx="171.7" cy="755.9" r="0.58"/><circle cx="164.1" cy="753.2" r="0.59"/><circle cx="169.2" cy="752.8" r="0.59"/><circle cx="177.0" cy="756.8" r="0.65"/><circle cx="177.2" cy="756.7" r="0.58"/><circle cx="164.5" cy="752.5" r="0.57"/><circle cx="173.7" cy="756.1" r="0.77"/><circle cx="159.3" cy="749.7" r="0.72"/><circle cx="160.2" cy="752.8" r="0.60"/><circle cx="162.4" cy="751.9" r="0.85"/><circle cx="162.3" cy="750.3" r="0.58"/><circle cx="162.8" cy="752.2" r="0.70"/><circle cx="169.5" cy="754.5" r="0.55"/><circle cx="161.4" cy="751.0" r="0.80"/><circle cx="173.5" cy="755.3" r="0.80"/><circle cx="159.8" cy="750.2" r="0.59"/><circle cx="174.1" cy="755.8" r="0.76"/><circle cx="166.2" cy="751.1" r="0.79"/><circle cx="170.3" cy="754.0" r="0.60"/><circle cx="168.3" cy="753.1" r="0.62"/><circle cx="162.7" cy="751.1" r="0.67"/><circle cx="160.9" cy="752.8" r="0.81"/><circle cx="157.7" cy="750.7" r="0.56"/><circle cx="169.6" cy="755.0" r="0.74"/><circle cx="174.8" cy="755.0" r="0.71"/><circle cx="171.0" cy="756.2" r="0.66"/><circle cx="183.5" cy="778.4" r="0.70"/><circle cx="152.6" cy="780.9" r="0.81"/><circle cx="154.3" cy="745.2" r="0.57"/><circle cx="134.2" cy="801.0" r="0.81"/><circle cx="165.6" cy="757.5" r="0.63"/><circle cx="117.9" cy="785.8" r="0.77"/><circle cx="157.1" cy="780.4" r="0.80"/><circle cx="165.9" cy="751.0" r="0.56"/><circle cx="177.6" cy="794.0" r="0.80"/><circle cx="151.3" cy="778.9" r="0.85"/><circle cx="136.3" cy="752.3" r="0.60"/><circle cx="145.1" cy="753.4" r="0.51"/><circle cx="158.1" cy="804.1" r="0.54"/><circle cx="127.0" cy="783.9" r="0.84"/><circle cx="169.0" cy="755.3" r="0.50"/><circle cx="143.9" cy="773.2" r="0.82"/><circle cx="175.5" cy="780.6" r="0.55"/><circle cx="144.4" cy="809.7" r="0.76"/><circle cx="171.1" cy="767.5" r="0.53"/><circle cx="133.5" cy="767.3" r="0.56"/><circle cx="147.2" cy="812.5" r="0.74"/><circle cx="173.8" cy="803.1" r="0.53"/><circle cx="120.4" cy="780.0" r="0.62"/><circle cx="134.1" cy="773.3" r="0.82"/><circle cx="161.0" cy="769.3" r="0.75"/><circle cx="153.9" cy="748.6" r="0.81"/><circle cx="147.0" cy="779.1" r="0.84"/><circle cx="182.3" cy="788.1" r="0.51"/><circle cx="161.6" cy="762.4" r="0.58"/><circle cx="164.2" cy="762.9" r="0.78"/><circle cx="154.7" cy="808.5" r="0.74"/><circle cx="160.2" cy="761.3" r="0.51"/><circle cx="153.1" cy="774.2" r="0.68"/><circle cx="138.1" cy="789.1" r="0.58"/><circle cx="125.1" cy="785.4" r="0.65"/><circle cx="183.6" cy="779.8" r="0.54"/><circle cx="135.5" cy="776.4" r="0.51"/><circle cx="154.1" cy="754.2" r="0.85"/><circle cx="137.3" cy="772.3" r="0.61"/><circle cx="136.9" cy="760.8" r="0.81"/><circle cx="122.8" cy="782.0" r="0.54"/><circle cx="175.5" cy="786.5" r="0.67"/><circle cx="156.6" cy="789.3" r="0.55"/><circle cx="130.8" cy="793.5" r="0.65"/><circle cx="149.0" cy="782.2" r="0.56"/><circle cx="159.6" cy="776.6" r="0.74"/><circle cx="138.4" cy="760.8" r="0.55"/><circle cx="132.2" cy="779.7" r="0.76"/><circle cx="143.5" cy="784.8" r="0.68"/><circle cx="177.0" cy="760.5" r="0.54"/><circle cx="155.7" cy="778.2" r="0.62"/><circle cx="137.4" cy="797.8" r="0.67"/><circle cx="177.7" cy="774.6" r="0.82"/><circle cx="121.0" cy="771.0" r="0.62"/><circle cx="147.5" cy="795.3" r="0.58"/><circle cx="124.3" cy="759.6" r="0.84"/><circle cx="127.5" cy="767.4" r="0.81"/><circle cx="141.4" cy="791.1" r="0.76"/><circle cx="159.8" cy="803.3" r="0.60"/><circle cx="174.2" cy="780.0" r="0.56"/><circle cx="168.4" cy="795.8" r="0.59"/><circle cx="169.9" cy="777.1" r="0.52"/><circle cx="171.6" cy="793.4" r="0.52"/><circle cx="170.3" cy="784.8" r="0.68"/><circle cx="151.6" cy="811.2" r="0.64"/><circle cx="156.7" cy="773.1" r="0.69"/><circle cx="171.6" cy="804.9" r="0.63"/><circle cx="159.2" cy="770.4" r="0.50"/><circle cx="148.4" cy="775.9" r="0.74"/><circle cx="167.3" cy="764.3" r="0.73"/><circle cx="144.0" cy="782.7" r="0.69"/><circle cx="143.6" cy="766.3" r="0.69"/><circle cx="171.8" cy="803.3" r="0.74"/><circle cx="151.7" cy="774.9" r="0.84"/><circle cx="129.6" cy="765.1" r="0.81"/><circle cx="126.8" cy="784.1" r="0.75"/><circle cx="157.4" cy="750.0" r="0.64"/><circle cx="181.1" cy="766.5" r="0.61"/><circle cx="175.7" cy="802.5" r="0.65"/><circle cx="146.6" cy="807.5" r="0.84"/><circle cx="156.2" cy="778.6" r="0.64"/><circle cx="152.9" cy="780.0" r="0.63"/><circle cx="164.7" cy="771.1" r="0.64"/><circle cx="141.7" cy="785.4" r="0.55"/><circle cx="141.3" cy="810.2" r="0.85"/><circle cx="164.1" cy="780.6" r="0.50"/><circle cx="123.6" cy="770.0" r="0.71"/><circle cx="144.8" cy="783.1" r="0.82"/><circle cx="156.9" cy="805.4" r="0.59"/><circle cx="184.2" cy="777.9" r="0.71"/><circle cx="147.5" cy="787.5" r="0.63"/><circle cx="153.8" cy="800.9" r="0.58"/><circle cx="128.7" cy="766.1" r="0.57"/><circle cx="152.6" cy="751.5" r="0.54"/></g>
<text x="51.85" y="837.7" font-size="11.38" font-style="italic" fill="#111" stroke="#111" stroke-width="0.12">Nfkbiz</text>
<text x="86.50" y="833.23" font-size="6.8" font-style="italic" fill="#111" stroke="#111" stroke-width="0.2" textLength="10" lengthAdjust="spacingAndGlyphs">+/–</text>
<text x="131.85" y="837.7" font-size="11.38" font-style="italic" fill="#111" stroke="#111" stroke-width="0.12">Nfkbiz</text>
<text x="163.80" y="833.83" font-size="6.8" font-style="italic" fill="#111" stroke="#111" stroke-width="0.2" textLength="11.6" lengthAdjust="spacingAndGlyphs">–/–</text>
<line x1="203.9" y1="751.1" x2="430.6" y2="751.1" stroke="#111" stroke-width="1.5" />
<line x1="297.8" y1="722.5" x2="297.8" y2="836.8" stroke="#111" stroke-width="1.5" />
<text x="251" y="737.4" font-size="10.4" text-anchor="middle" fill="#111" font-weight="bold" textLength="36.3" lengthAdjust="spacingAndGlyphs" >Species</text>
<text x="331.4" y="737.6" font-size="10.4" text-anchor="start" fill="#111" font-weight="bold" textLength="32.8" lengthAdjust="spacingAndGlyphs" >Colony</text>
<text x="364.6" y="737.6" font-size="10.4" text-anchor="start" fill="#111" font-weight="bold" >in</text>
<text x="375.5" y="737.6" font-size="10.4" text-anchor="start" fill="#111" font-weight="bold" >MSA</text>
<text x="251.8" y="766.4" font-size="10" text-anchor="middle" fill="#111" font-style="italic" stroke="#111" stroke-width="0.15" >S. xylosus</text>
<text x="364.5" y="766.4" font-size="10" text-anchor="middle" fill="#111" textLength="57.4" lengthAdjust="spacingAndGlyphs" stroke="#111" stroke-width="0.15" >57.14% (4/7)</text>
<text x="251.8" y="794.7" font-size="10" text-anchor="middle" fill="#111" font-style="italic" stroke="#111" stroke-width="0.15" >S. cohnii</text>
<text x="364.5" y="794.7" font-size="10" text-anchor="middle" fill="#111" textLength="57.4" lengthAdjust="spacingAndGlyphs" stroke="#111" stroke-width="0.15" >28.57% (2/7)</text>
<text x="251.8" y="823" font-size="10" text-anchor="middle" fill="#111" font-style="italic" stroke="#111" stroke-width="0.15" >S. sciuri</text>
<text x="364.5" y="823" font-size="10" text-anchor="middle" fill="#111" textLength="57.4" lengthAdjust="spacingAndGlyphs" stroke="#111" stroke-width="0.15" >14.29% (1/7)</text>
<line x1="507.8" y1="727.1" x2="507.8" y2="824.2" stroke="#858585" stroke-width="1" />
<line x1="507.8" y1="824.2" x2="629.3" y2="824.2" stroke="#858585" stroke-width="1" />
<line x1="505.3" y1="824.2" x2="507.8" y2="824.2" stroke="#858585" stroke-width="1" />
<text x="500.6" y="830.2" font-size="10.6" text-anchor="end" fill="#111" textLength="11.6" lengthAdjust="spacingAndGlyphs" stroke="#111" stroke-width="0.15" >10</text>
<text x="500.2" y="826.9000000000001" font-size="7.4" text-anchor="start" fill="#111" stroke="#111" stroke-width="0.15" >0</text>
<line x1="505.3" y1="808.0300000000001" x2="507.8" y2="808.0300000000001" stroke="#858585" stroke-width="1" />
<text x="500.6" y="813.7" font-size="10.6" text-anchor="end" fill="#111" textLength="11.6" lengthAdjust="spacingAndGlyphs" stroke="#111" stroke-width="0.15" >10</text>
<text x="500.2" y="810.4000000000001" font-size="7.4" text-anchor="start" fill="#111" stroke="#111" stroke-width="0.15" >1</text>
<line x1="505.3" y1="791.86" x2="507.8" y2="791.86" stroke="#858585" stroke-width="1" />
<text x="500.6" y="797.4" font-size="10.6" text-anchor="end" fill="#111" textLength="11.6" lengthAdjust="spacingAndGlyphs" stroke="#111" stroke-width="0.15" >10</text>
<text x="500.2" y="794.1" font-size="7.4" text-anchor="start" fill="#111" stroke="#111" stroke-width="0.15" >2</text>
<line x1="505.3" y1="775.69" x2="507.8" y2="775.69" stroke="#858585" stroke-width="1" />
<text x="500.6" y="780.8" font-size="10.6" text-anchor="end" fill="#111" textLength="11.6" lengthAdjust="spacingAndGlyphs" stroke="#111" stroke-width="0.15" >10</text>
<text x="500.2" y="777.5" font-size="7.4" text-anchor="start" fill="#111" stroke="#111" stroke-width="0.15" >3</text>
<line x1="505.3" y1="759.52" x2="507.8" y2="759.52" stroke="#858585" stroke-width="1" />
<text x="500.6" y="764.3" font-size="10.6" text-anchor="end" fill="#111" textLength="11.6" lengthAdjust="spacingAndGlyphs" stroke="#111" stroke-width="0.15" >10</text>
<text x="500.2" y="761.0" font-size="7.4" text-anchor="start" fill="#111" stroke="#111" stroke-width="0.15" >4</text>
<line x1="505.3" y1="743.35" x2="507.8" y2="743.35" stroke="#858585" stroke-width="1" />
<text x="500.6" y="747.7" font-size="10.6" text-anchor="end" fill="#111" textLength="11.6" lengthAdjust="spacingAndGlyphs" stroke="#111" stroke-width="0.15" >10</text>
<text x="500.2" y="744.4000000000001" font-size="7.4" text-anchor="start" fill="#111" stroke="#111" stroke-width="0.15" >5</text>
<line x1="505.3" y1="727.1800000000001" x2="507.8" y2="727.1800000000001" stroke="#858585" stroke-width="1" />
<text x="500.6" y="730.4" font-size="10.6" text-anchor="end" fill="#111" textLength="11.6" lengthAdjust="spacingAndGlyphs" stroke="#111" stroke-width="0.15" >10</text>
<text x="500.2" y="727.1" font-size="7.4" text-anchor="start" fill="#111" stroke="#111" stroke-width="0.15" >6</text>
<line x1="527.4" y1="824.2" x2="527.4" y2="826.5" stroke="#858585" stroke-width="1" />
<line x1="567.4" y1="824.2" x2="567.4" y2="826.5" stroke="#858585" stroke-width="1" />
<line x1="607.6" y1="824.2" x2="607.6" y2="826.5" stroke="#858585" stroke-width="1" />
<rect x="513.2" y="821" width="12.6" height="3.2000000000000455" fill="#e00000" stroke="#900000" stroke-width="0.6" />
<line x1="519.8" y1="821" x2="519.8" y2="816.3" stroke="#777" stroke-width="1" />
<line x1="515" y1="816.3" x2="524.4" y2="816.3" stroke="#777" stroke-width="1" />
<rect x="530.1" y="774.9" width="13.199999999999932" height="49.30000000000007" fill="#0000b8" stroke="none" stroke-width="0" />
<line x1="536.7" y1="774.9" x2="536.7" y2="773.1" stroke="#777" stroke-width="1" />
<line x1="531.7" y1="773.1" x2="541.6999999999999" y2="773.1" stroke="#777" stroke-width="1" />
<rect x="570.6" y="762" width="13.5" height="62.200000000000045" fill="#0000b8" stroke="none" stroke-width="0" />
<line x1="577.35" y1="762" x2="577.35" y2="759.6" stroke="#777" stroke-width="1" />
<line x1="572.2" y1="759.6" x2="582.5" y2="759.6" stroke="#777" stroke-width="1" />
<rect x="610.4" y="751.9" width="13.5" height="72.30000000000007" fill="#0000b8" stroke="none" stroke-width="0" />
<line x1="617.15" y1="751.9" x2="617.15" y2="749.1" stroke="#777" stroke-width="1" />
<line x1="612.0" y1="749.1" x2="622.3" y2="749.1" stroke="#777" stroke-width="1" />
<text x="549" y="821.7" font-size="10.2" text-anchor="start" fill="#111" textLength="18.2" lengthAdjust="spacingAndGlyphs" stroke="#111" stroke-width="0.15" >n.d.</text>
<text x="591.5" y="821.7" font-size="10.2" text-anchor="start" fill="#111" textLength="17.9" lengthAdjust="spacingAndGlyphs" stroke="#111" stroke-width="0.15" >n.d.</text>
<text x="527.6" y="838.3" font-size="10.6" text-anchor="middle" fill="#111" stroke="#111" stroke-width="0.15" >5</text>
<text x="568.7" y="838.6" font-size="10.6" text-anchor="middle" fill="#111" stroke="#111" stroke-width="0.15" >10</text>
<text x="608.5" y="838.6" font-size="10.6" text-anchor="middle" fill="#111" stroke="#111" stroke-width="0.15" >15</text>
<text x="623.7" y="838.3" font-size="10.6" text-anchor="start" fill="#111" textLength="33.5" lengthAdjust="spacingAndGlyphs" stroke="#111" stroke-width="0.15" >(week)</text>
<line x1="595" y1="741.7" x2="619.3" y2="741.7" stroke="#777" stroke-width="1" />
<text x="607.4" y="741.715" font-size="13.5" text-anchor="middle" fill="#444" stroke="#444" stroke-width="0.2">**</text>
<rect x="521.4" y="698.7" width="15.1" height="6.9" fill="#f00000" stroke="#700" stroke-width="0.7" />
<rect x="521.4" y="713.2" width="15.1" height="7.9" fill="#0000c8" stroke="#000060" stroke-width="0.7" />
<text x="542.44" y="706.5" font-size="11.46" font-style="italic" fill="#111" stroke="#111" stroke-width="0.12">Nfkbiz</text>
<text x="577.00" y="703.13" font-size="6.8" font-style="italic" fill="#111" stroke="#111" stroke-width="0.2" textLength="10" lengthAdjust="spacingAndGlyphs">+/–</text>
<text x="541.85" y="722.6" font-size="11.31" font-style="italic" fill="#111" stroke="#111" stroke-width="0.12">Nfkbiz</text>
<text x="574.10" y="719.13" font-size="6.8" font-style="italic" fill="#111" stroke="#111" stroke-width="0.2" textLength="10" lengthAdjust="spacingAndGlyphs">–/–</text>
<text x="0" y="0" font-size="10.8" text-anchor="middle" fill="#111" stroke="#111" stroke-width="0.15" textLength="110" lengthAdjust="spacingAndGlyphs" transform="translate(479.3,779.1) rotate(-90)">CFU of <tspan font-style="italic">Staphylococci</tspan></text>
</g>
</svg></body></html>
